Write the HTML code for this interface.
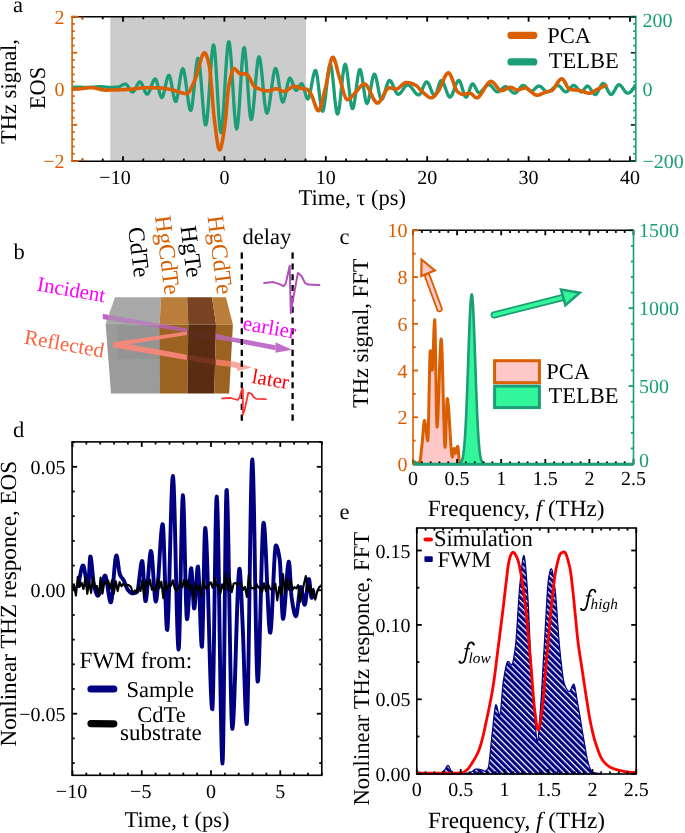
<!DOCTYPE html>
<html><head><meta charset="utf-8"><style>
html,body{margin:0;padding:0;background:#fff;width:685px;height:833px;overflow:hidden;}
svg{display:block;will-change:transform;text-rendering:geometricPrecision;font-family:"Liberation Serif", serif;}
</style></head><body>
<svg width="685" height="833" viewBox="0 0 685 833" font-family='"Liberation Serif", serif'>
<defs>
<clipPath id="clipa"><rect x="72.1" y="16.7" width="563.6999999999999" height="144.5"/></clipPath>
<clipPath id="clipd"><rect x="72.1" y="441.9" width="249.70000000000002" height="333.4"/></clipPath>
<pattern id="hatch" patternUnits="userSpaceOnUse" width="4.32" height="4.32" patternTransform="rotate(45)"><rect width="4.32" height="4.32" fill="#000080"/><rect y="0" width="4.32" height="1.25" fill="#fff"/></pattern>
</defs>
<rect width="685" height="833" fill="#fff"/>
<polygon points="115,297.3 161.2,297.3 159.5,324.6 105.6,323.8" fill="#a8a8a8"/>
<polygon points="105.6,323.8 159.8,324.6 160,393.6 111,393.6" fill="#9b9b9b"/>
<polygon points="117.5,325.5 159.9,325.5 159.9,359.1 117.5,359.1" fill="#8f8f8f" opacity="0.6"/>
<polygon points="161.2,297.3 187.2,297.3 188.3,324.6 159.5,324.6" fill="#bb7d3a"/>
<polygon points="159.5,324.6 188.3,324.6 187.4,393.6 160,393.6" fill="#9c6222"/>
<polygon points="187.2,297.3 212,297.3 216,324.6 188.3,324.6" fill="#7a4424"/>
<polygon points="188.3,324.6 216,324.6 214.3,393.6 187.4,393.6" fill="#5a2c12"/>
<polygon points="212,297.3 225.9,297.3 232.9,324.6 216,324.6" fill="#bb7d3a"/>
<polygon points="216,324.6 232.9,324.6 229.2,393.6 214.3,393.6" fill="#9c6222"/>
<clipPath id="cbL"><rect x="95" y="300" width="13.4" height="30"/></clipPath>
<clipPath id="cbO"><rect x="159.7" y="300" width="27.3" height="50"/></clipPath>
<polygon points="102.9,313.9 186.9,328.4 186.9,332.2 102.9,319" fill="#c060c8" opacity="0.5"/>
<polygon points="102.9,313.9 186.9,328.4 186.9,332.2 102.9,319" fill="#c060c8" clip-path="url(#cbL)"/>
<polygon points="102.9,313.9 186.9,328.4 186.9,332.2 102.9,319" fill="#c060c8" opacity="0.45" clip-path="url(#cbO)"/>
<polygon points="187,329.9 216,333.4 216,339.5 187,337.8" fill="#70304a" opacity="0.18"/>
<polygon points="216,333.4 230.8,337 230.8,341.5 216,339.5" fill="#b868b0" opacity="0.85"/>
<polygon points="230.8,337 275.5,345.2 275.5,350.2 230.8,341.5" fill="#c070c8"/>
<polygon points="275.5,342.2 292.1,349.7 275.5,352.7" fill="#c070c8"/>
<polygon points="113.1,342.3 186.9,331.4 186.9,335 129.2,344.2 186.9,354.7 186.9,359.9 113.1,347.4" fill="#f88878" opacity="0.92"/>
<polygon points="187,354.7 216,359.4 216,365.2 187,359.9" fill="#8a3a22" opacity="0.55"/>
<polygon points="216,359.4 230.8,361 230.8,367 216,365.2" fill="#f08060" opacity="0.9"/>
<polygon points="230.8,361 237.5,362.2 237.5,368.2 230.8,367" fill="#f8a8a0"/>
<polygon points="237,362.3 251.8,367.6 237,371" fill="#f8a8a0"/>
<line x1="241.8" y1="252.6" x2="241.8" y2="421" stroke="#000" stroke-width="2.3" stroke-dasharray="6.1,4.7"/>
<line x1="292.6" y1="252.6" x2="292.6" y2="421" stroke="#000" stroke-width="2.3" stroke-dasharray="6.1,4.7"/>
<path d="M264.2,283.1 L273.4,282.1 L279.5,284.1 L283.6,286.2 L285.7,283.6 L289.7,265.7 L290.8,313.2 L291.8,306.1 L297.9,272.9 L301.5,276 L305.1,283.1 L308.1,284.6 L319.4,285.1" fill="none" stroke="#b050b8" stroke-width="2" stroke-linejoin="round" stroke-linecap="round"/>
<path d="M222,398.4 L230.8,398 L237.8,400 L239.5,397.5 L241.3,391.4 L242.8,388.3 L243,414.6 L244.8,408.9 L248.3,392.7 L251.8,394 L253.5,397.1 L256.2,398.8 L265.8,399.1" fill="none" stroke="#ff3333" stroke-width="1.8" stroke-linejoin="round" stroke-linecap="round"/>
<text x="13.5" y="258.5" font-size="22.5">b</text>
<text x="0" y="0" font-size="23.5" transform="translate(128.1,228.0) rotate(83)">CdTe</text>
<text x="0" y="0" font-size="23.5" fill="#d95f02" transform="translate(155.0,216.6) rotate(83)">HgCdTe</text>
<text x="0" y="0" font-size="23.5" transform="translate(180.6,226.7) rotate(83)">HgTe</text>
<text x="0" y="0" font-size="23.5" fill="#d95f02" transform="translate(207.6,216.5) rotate(83)">HgCdTe</text>
<text x="242.5" y="244" font-size="22.5">delay</text>
<text x="0" y="0" font-size="21" fill="#ff00ff" transform="translate(36.3,290.5) rotate(10)">Incident</text>
<text x="0" y="0" font-size="21" fill="#fa6540" transform="translate(23.5,343.6) rotate(10)">Reflected</text>
<text x="0" y="0" font-size="21" fill="#ff00ff" transform="translate(242.1,329.6) rotate(10)">earlier</text>
<text x="0" y="0" font-size="21" fill="#ff0000" transform="translate(251.0,382.8) rotate(10)">later</text>
<rect x="110.3" y="16.7" width="195.7" height="144.5" fill="#cccccc"/>
<path d="M72.4,87 L73.02,87.03 L73.65,87.06 L74.27,87.09 L74.9,87.11 L75.52,87.13 L76.15,87.15 L76.77,87.17 L77.4,87.19 L78.02,87.21 L78.64,87.22 L79.27,87.23 L79.89,87.24 L80.52,87.25 L81.14,87.26 L81.77,87.27 L82.39,87.28 L83.01,87.28 L83.64,87.29 L84.26,87.29 L84.89,87.29 L85.51,87.3 L86.14,87.3 L86.76,87.3 L87.39,87.3 L88.01,87.3 L88.63,87.3 L89.26,87.3 L89.88,87.3 L90.51,87.29 L91.13,87.28 L91.76,87.24 L92.38,87.2 L93,87.15 L93.63,87.09 L94.25,87.03 L94.88,86.96 L95.5,86.9 L96.13,86.83 L96.75,86.77 L97.38,86.72 L98,86.67 L98.62,86.64 L99.25,86.61 L99.87,86.6 L100.5,86.61 L101.12,86.63 L101.75,86.66 L102.37,86.71 L103,86.77 L103.62,86.84 L104.24,86.91 L104.87,86.98 L105.49,87.06 L106.12,87.13 L106.74,87.2 L107.37,87.26 L107.99,87.32 L108.61,87.36 L109.24,87.39 L109.86,87.4 L110.49,87.4 L111.11,87.39 L111.74,87.38 L112.36,87.36 L112.99,87.34 L113.61,87.31 L114.23,87.28 L114.86,87.24 L115.48,87.2 L116.11,87.16 L116.73,87.11 L117.36,87.06 L117.98,87 L118.6,86.9 L119.23,86.7 L119.85,86.42 L120.48,86.1 L121.1,85.74 L121.73,85.37 L122.35,85.01 L122.98,84.67 L123.6,84.38 L124.22,84.16 L124.85,84.03 L125.47,84.01 L126.1,84.27 L126.72,84.79 L127.35,85.53 L127.97,86.43 L128.6,87.42 L129.22,88.44 L129.84,89.44 L130.47,90.35 L131.09,91.12 L131.72,91.68 L132.34,91.97 L132.97,91.93 L133.59,91.49 L134.21,90.72 L134.84,89.71 L135.46,88.52 L136.09,87.24 L136.71,85.94 L137.34,84.69 L137.96,83.58 L138.59,82.67 L139.21,82.06 L139.83,81.8 L140.46,82.01 L141.08,82.67 L141.71,83.7 L142.33,85.01 L142.96,86.5 L143.58,88.08 L144.2,89.65 L144.83,91.13 L145.45,92.41 L146.08,93.41 L146.7,94.04 L147.33,94.19 L147.95,93.82 L148.58,93 L149.2,91.81 L149.82,90.34 L150.45,88.68 L151.07,86.91 L151.7,85.13 L152.32,83.42 L152.95,81.86 L153.57,80.55 L154.2,79.56 L154.82,79 L155.44,78.97 L156.07,79.78 L156.69,81.32 L157.32,83.41 L157.94,85.86 L158.57,88.48 L159.19,91.08 L159.81,93.46 L160.44,95.45 L161.06,96.86 L161.69,97.48 L162.31,97.17 L162.94,95.97 L163.56,94.07 L164.19,91.64 L164.81,88.88 L165.43,85.95 L166.06,83.06 L166.68,80.37 L167.31,78.06 L167.93,76.33 L168.56,75.35 L169.18,75.33 L169.8,76.47 L170.43,78.59 L171.05,81.44 L171.68,84.78 L172.3,88.36 L172.93,91.95 L173.55,95.28 L174.18,98.13 L174.8,100.24 L175.42,101.37 L176.05,101.27 L176.67,99.82 L177.3,97.25 L177.92,93.85 L178.55,89.88 L179.17,85.6 L179.8,81.29 L180.42,77.22 L181.04,73.64 L181.67,70.84 L182.29,69.08 L182.92,68.63 L183.54,69.64 L184.17,71.93 L184.79,75.25 L185.41,79.36 L186.04,83.99 L186.66,88.91 L187.29,93.86 L187.91,98.6 L188.54,102.88 L189.16,106.44 L189.79,109.04 L190.41,110.43 L191.03,110.29 L191.66,108.19 L192.28,104.42 L192.91,99.37 L193.53,93.42 L194.16,86.94 L194.78,80.32 L195.4,73.92 L196.03,68.13 L196.65,63.33 L197.28,59.9 L197.9,58.21 L198.53,58.71 L199.15,61.59 L199.78,66.43 L200.4,72.79 L201.02,80.23 L201.65,88.28 L202.27,96.52 L202.9,104.49 L203.52,111.75 L204.15,117.84 L204.77,122.34 L205.4,124.79 L206.02,124.72 L206.64,121.94 L207.27,116.88 L207.89,110.01 L208.52,101.81 L209.14,92.74 L209.77,83.29 L210.39,73.92 L211.01,65.12 L211.64,57.36 L212.26,51.1 L212.89,46.84 L213.51,45.03 L214.14,46.35 L214.76,50.94 L215.39,58.14 L216.01,67.31 L216.63,77.78 L217.26,88.9 L217.88,100.02 L218.51,110.46 L219.13,119.58 L219.76,126.73 L220.38,131.23 L221,132.45 L221.63,130.32 L222.25,125.4 L222.88,118.24 L223.5,109.38 L224.13,99.36 L224.75,88.71 L225.38,77.97 L226,67.69 L226.62,58.4 L227.25,50.65 L227.87,44.96 L228.5,41.89 L229.12,41.92 L229.75,44.97 L230.37,50.5 L231,58.01 L231.62,66.98 L232.24,76.89 L232.87,87.21 L233.49,97.44 L234.12,107.06 L234.74,115.53 L235.37,122.36 L235.99,127.01 L236.61,128.97 L237.24,127.77 L237.86,123.6 L238.49,117.04 L239.11,108.69 L239.74,99.13 L240.36,88.94 L240.99,78.72 L241.61,69.05 L242.23,60.52 L242.86,53.7 L243.48,49.2 L244.11,47.6 L244.73,49.21 L245.36,53.58 L245.98,60.11 L246.6,68.22 L247.23,77.31 L247.85,86.8 L248.48,96.1 L249.1,104.62 L249.73,111.76 L250.35,116.95 L250.98,119.59 L251.6,119.32 L252.22,116.83 L252.85,112.55 L253.47,106.87 L254.1,100.18 L254.72,92.87 L255.35,85.32 L255.97,77.93 L256.6,71.07 L257.22,65.15 L257.84,60.54 L258.47,57.64 L259.09,56.82 L259.72,58.11 L260.34,61.13 L260.97,65.55 L261.59,71.04 L262.21,77.25 L262.84,83.86 L263.46,90.53 L264.09,96.92 L264.71,102.7 L265.34,107.54 L265.96,111.09 L266.59,113.04 L267.21,113.13 L267.83,111.86 L268.46,109.49 L269.08,106.24 L269.71,102.29 L270.33,97.85 L270.96,93.12 L271.58,88.3 L272.2,83.58 L272.83,79.16 L273.45,75.25 L274.08,72.04 L274.7,69.74 L275.33,68.53 L275.95,68.63 L276.58,70.09 L277.2,72.65 L277.82,76.06 L278.45,80.05 L279.07,84.36 L279.7,88.72 L280.32,92.87 L280.95,96.55 L281.57,99.49 L282.2,101.43 L282.82,102.1 L283.44,101.54 L284.07,100.08 L284.69,97.89 L285.32,95.19 L285.94,92.16 L286.57,89.01 L287.19,85.92 L287.81,83.1 L288.44,80.73 L289.06,79.02 L289.69,78.16 L290.31,78.26 L290.94,79.02 L291.56,80.28 L292.19,81.88 L292.81,83.68 L293.43,85.53 L294.06,87.28 L294.68,88.77 L295.31,89.85 L295.93,90.37 L296.56,90.27 L297.18,89.75 L297.8,88.92 L298.43,87.89 L299.05,86.77 L299.68,85.69 L300.3,84.74 L300.93,84.05 L301.55,83.71 L302.18,83.96 L302.8,85.01 L303.42,86.68 L304.05,88.76 L304.67,91.06 L305.3,93.39 L305.92,95.54 L306.55,97.33 L307.17,98.55 L307.8,99 L308.42,98.47 L309.04,97 L309.67,94.77 L310.29,91.95 L310.92,88.73 L311.54,85.3 L312.17,81.84 L312.79,78.53 L313.41,75.56 L314.04,73.1 L314.66,71.34 L315.29,70.46 L315.91,70.8 L316.54,72.76 L317.16,76.07 L317.79,80.38 L318.41,85.38 L319.03,90.71 L319.66,96.06 L320.28,101.08 L320.91,105.43 L321.53,108.8 L322.16,110.84 L322.78,111.22 L323.4,109.87 L324.03,107.04 L324.65,103.05 L325.28,98.2 L325.9,92.78 L326.53,87.1 L327.15,81.45 L327.78,76.14 L328.4,71.47 L329.02,67.74 L329.65,65.25 L330.27,64.3 L330.9,65.27 L331.52,68.12 L332.15,72.46 L332.77,77.9 L333.4,84.04 L334.02,90.49 L334.64,96.87 L335.27,102.79 L335.89,107.85 L336.52,111.66 L337.14,113.84 L337.77,114.03 L338.39,112.35 L339.01,109.16 L339.64,104.77 L340.26,99.5 L340.89,93.68 L341.51,87.62 L342.14,81.65 L342.76,76.07 L343.39,71.22 L344.01,67.41 L344.63,64.97 L345.26,64.21 L345.88,65.3 L346.51,67.98 L347.13,71.92 L347.76,76.78 L348.38,82.22 L349,87.92 L349.63,93.53 L350.25,98.73 L350.88,103.17 L351.5,106.53 L352.13,108.46 L352.75,108.67 L353.38,107.28 L354,104.6 L354.62,100.92 L355.25,96.53 L355.87,91.7 L356.5,86.73 L357.12,81.89 L357.75,77.47 L358.37,73.75 L359,71.02 L359.62,69.57 L360.24,69.63 L360.87,71.13 L361.49,73.79 L362.12,77.32 L362.74,81.45 L363.37,85.89 L363.99,90.37 L364.61,94.61 L365.24,98.33 L365.86,101.25 L366.49,103.09 L367.11,103.58 L367.74,102.78 L368.36,100.97 L368.99,98.37 L369.61,95.18 L370.23,91.62 L370.86,87.9 L371.48,84.24 L372.11,80.84 L372.73,77.92 L373.36,75.7 L373.98,74.37 L374.6,74.16 L375.23,75.06 L375.85,76.87 L376.48,79.37 L377.1,82.37 L377.73,85.65 L378.35,89 L378.98,92.22 L379.6,95.1 L380.22,97.43 L380.85,99 L381.47,99.6 L382.1,99.29 L382.72,98.39 L383.35,97 L383.97,95.24 L384.6,93.2 L385.22,91.01 L385.84,88.77 L386.47,86.58 L387.09,84.57 L387.72,82.84 L388.34,81.49 L388.97,80.65 L389.59,80.4 L390.21,80.67 L390.84,81.29 L391.46,82.2 L392.09,83.36 L392.71,84.69 L393.34,86.13 L393.96,87.62 L394.59,89.1 L395.21,90.5 L395.83,91.78 L396.46,92.85 L397.08,93.67 L397.71,94.17 L398.33,94.29 L398.96,94.13 L399.58,93.76 L400.2,93.21 L400.83,92.52 L401.45,91.72 L402.08,90.84 L402.7,89.92 L403.33,88.99 L403.95,88.07 L404.58,87.21 L405.2,86.43 L405.82,85.76 L406.45,85.25 L407.07,84.92 L407.7,84.8 L408.32,84.89 L408.95,85.16 L409.57,85.58 L410.2,86.14 L410.82,86.8 L411.44,87.54 L412.07,88.35 L412.69,89.2 L413.32,90.06 L413.94,90.93 L414.57,91.76 L415.19,92.55 L415.81,93.26 L416.44,93.88 L417.06,94.39 L417.69,94.76 L418.31,94.96 L418.94,94.97 L419.56,94.58 L420.19,93.81 L420.81,92.75 L421.43,91.46 L422.06,90.01 L422.68,88.49 L423.31,86.97 L423.93,85.52 L424.56,84.22 L425.18,83.14 L425.8,82.36 L426.43,81.94 L427.05,81.98 L427.68,82.47 L428.3,83.35 L428.93,84.53 L429.55,85.94 L430.18,87.49 L430.8,89.11 L431.42,90.72 L432.05,92.23 L432.67,93.58 L433.3,94.67 L433.92,95.43 L434.55,95.78 L435.17,95.58 L435.8,94.67 L436.42,93.21 L437.04,91.35 L437.67,89.26 L438.29,87.08 L438.92,84.97 L439.54,83.1 L440.17,81.61 L440.79,80.66 L441.41,80.41 L442.04,80.74 L442.66,81.51 L443.29,82.63 L443.91,84.03 L444.54,85.65 L445.16,87.39 L445.79,89.19 L446.41,90.98 L447.03,92.67 L447.66,94.2 L448.28,95.5 L448.91,96.47 L449.53,97.06 L450.16,97.18 L450.78,96.83 L451.4,96.05 L452.03,94.93 L452.65,93.54 L453.28,91.94 L453.9,90.22 L454.53,88.44 L455.15,86.67 L455.78,84.99 L456.4,83.47 L457.02,82.18 L457.65,81.19 L458.27,80.57 L458.9,80.41 L459.52,80.86 L460.15,81.9 L460.77,83.41 L461.4,85.26 L462.02,87.32 L462.64,89.47 L463.27,91.58 L463.89,93.52 L464.52,95.17 L465.14,96.41 L465.77,97.1 L466.39,97.12 L467.01,96.48 L467.64,95.3 L468.26,93.73 L468.89,91.92 L469.51,90 L470.14,88.12 L470.76,86.41 L471.39,85.03 L472.01,84.11 L472.63,83.8 L473.26,84.08 L473.88,84.77 L474.51,85.79 L475.13,87 L475.76,88.32 L476.38,89.63 L477,90.81 L477.63,91.78 L478.25,92.41 L478.88,92.6 L479.5,92.49 L480.13,92.23 L480.75,91.84 L481.38,91.34 L482,90.76 L482.62,90.1 L483.25,89.4 L483.87,88.68 L484.5,87.96 L485.12,87.26 L485.75,86.6 L486.37,86 L487,85.5 L487.62,85.09 L488.24,84.82 L488.87,84.7 L489.49,84.77 L490.12,85.03 L490.74,85.47 L491.37,86.03 L491.99,86.71 L492.61,87.45 L493.24,88.22 L493.86,89 L494.49,89.75 L495.11,90.44 L495.74,91.03 L496.36,91.49 L496.99,91.79 L497.61,91.9 L498.23,91.8 L498.86,91.55 L499.48,91.15 L500.11,90.66 L500.73,90.1 L501.36,89.49 L501.98,88.88 L502.6,88.28 L503.23,87.74 L503.85,87.28 L504.48,86.94 L505.1,86.74 L505.73,86.71 L506.35,86.86 L506.98,87.15 L507.6,87.56 L508.22,88.07 L508.85,88.66 L509.47,89.29 L510.1,89.95 L510.72,90.61 L511.35,91.24 L511.97,91.82 L512.6,92.33 L513.22,92.75 L513.84,93.04 L514.47,93.19 L515.09,93.15 L515.72,92.89 L516.34,92.44 L516.97,91.83 L517.59,91.11 L518.21,90.3 L518.84,89.45 L519.46,88.6 L520.09,87.77 L520.71,87.01 L521.34,86.36 L521.96,85.85 L522.59,85.52 L523.21,85.4 L523.83,85.51 L524.46,85.8 L525.08,86.25 L525.71,86.81 L526.33,87.45 L526.96,88.13 L527.58,88.83 L528.2,89.5 L528.83,90.12 L529.45,90.64 L530.08,91.03 L530.7,91.26 L531.33,91.29 L531.95,91.13 L532.58,90.81 L533.2,90.38 L533.82,89.84 L534.45,89.25 L535.07,88.63 L535.7,88 L536.32,87.41 L536.95,86.89 L537.57,86.46 L538.2,86.15 L538.82,86.01 L539.44,86.05 L540.07,86.26 L540.69,86.61 L541.32,87.08 L541.94,87.63 L542.57,88.24 L543.19,88.89 L543.81,89.53 L544.44,90.16 L545.06,90.72 L545.69,91.21 L546.31,91.59 L546.94,91.83 L547.56,91.9 L548.19,91.82 L548.81,91.62 L549.43,91.32 L550.06,90.93 L550.68,90.47 L551.31,89.96 L551.93,89.4 L552.56,88.83 L553.18,88.25 L553.8,87.68 L554.43,87.14 L555.05,86.65 L555.68,86.21 L556.3,85.85 L556.93,85.59 L557.55,85.43 L558.18,85.41 L558.8,85.59 L559.42,85.97 L560.05,86.51 L560.67,87.17 L561.3,87.9 L561.92,88.68 L562.55,89.45 L563.17,90.18 L563.8,90.83 L564.42,91.36 L565.04,91.73 L565.67,91.89 L566.29,91.83 L566.92,91.55 L567.54,91.09 L568.17,90.5 L568.79,89.81 L569.41,89.06 L570.04,88.29 L570.66,87.54 L571.29,86.85 L571.91,86.25 L572.54,85.78 L573.16,85.49 L573.79,85.4 L574.41,85.55 L575.03,85.91 L575.66,86.42 L576.28,87.07 L576.91,87.79 L577.53,88.56 L578.16,89.34 L578.78,90.08 L579.4,90.75 L580.03,91.29 L580.65,91.69 L581.28,91.88 L581.9,91.82 L582.53,91.43 L583.15,90.77 L583.78,89.94 L584.4,89.02 L585.02,88.1 L585.65,87.25 L586.27,86.56 L586.9,86.12 L587.52,86.01 L588.15,86.22 L588.77,86.69 L589.4,87.37 L590.02,88.21 L590.64,89.16 L591.27,90.17 L591.89,91.18 L592.52,92.15 L593.14,93.02 L593.77,93.75 L594.39,94.28 L595.01,94.57 L595.64,94.54 L596.26,94.14 L596.89,93.42 L597.51,92.46 L598.14,91.31 L598.76,90.03 L599.39,88.71 L600.01,87.4 L600.63,86.18 L601.26,85.1 L601.88,84.23 L602.51,83.64 L603.13,83.4 L603.76,83.56 L604.38,84.08 L605,84.89 L605.63,85.93 L606.25,87.13 L606.88,88.42 L607.5,89.75 L608.13,91.03 L608.75,92.22 L609.38,93.23 L610,94.01 L610.62,94.48 L611.25,94.59 L611.87,94.33 L612.5,93.78 L613.12,92.99 L613.75,92.01 L614.37,90.91 L615,89.75 L615.62,88.59 L616.24,87.47 L616.87,86.47 L617.49,85.64 L618.12,85.04 L618.74,84.73 L619.37,84.75 L619.99,85.02 L620.61,85.5 L621.24,86.16 L621.86,86.94 L622.49,87.82 L623.11,88.74 L623.74,89.68 L624.36,90.58 L624.99,91.41 L625.61,92.13 L626.23,92.69 L626.86,93.06 L627.48,93.2 L628.11,93.15 L628.73,92.99 L629.36,92.72 L629.98,92.35 L630.6,91.88 L631.23,91.3 L631.85,90.62 L632.48,89.84 L633.1,88.96 L633.73,87.99 L634.35,86.92 L634.98,85.76 L635.6,84.5" fill="none" stroke="#1b9e77" stroke-width="3.3" stroke-linejoin="round" clip-path="url(#clipa)"/>
<path d="M72.4,89.2 L73.02,89.18 L73.65,89.16 L74.27,89.13 L74.9,89.1 L75.52,89.07 L76.15,89.04 L76.77,89.01 L77.4,88.97 L78.02,88.93 L78.65,88.89 L79.27,88.85 L79.9,88.81 L80.52,88.76 L81.14,88.7 L81.77,88.63 L82.39,88.55 L83.02,88.46 L83.64,88.37 L84.27,88.28 L84.89,88.19 L85.52,88.1 L86.14,88 L86.77,87.92 L87.39,87.84 L88.01,87.77 L88.64,87.71 L89.26,87.66 L89.89,87.62 L90.51,87.6 L91.14,87.6 L91.76,87.62 L92.39,87.67 L93.01,87.74 L93.64,87.83 L94.26,87.93 L94.89,88.05 L95.51,88.18 L96.13,88.33 L96.76,88.47 L97.38,88.63 L98.01,88.79 L98.63,88.95 L99.26,89.11 L99.88,89.26 L100.51,89.41 L101.13,89.55 L101.76,89.68 L102.38,89.79 L103,89.89 L103.63,89.98 L104.25,90.04 L104.88,90.08 L105.5,90.1 L106.13,90.1 L106.75,90.1 L107.38,90.09 L108,90.09 L108.63,90.08 L109.25,90.07 L109.88,90.06 L110.5,90.05 L111.12,90.04 L111.75,90.03 L112.37,90.01 L113,90 L113.62,89.98 L114.25,89.97 L114.87,89.95 L115.5,89.93 L116.12,89.92 L116.75,89.9 L117.37,89.88 L118,89.86 L118.62,89.84 L119.24,89.82 L119.87,89.8 L120.49,89.78 L121.12,89.76 L121.74,89.74 L122.37,89.72 L122.99,89.69 L123.62,89.66 L124.24,89.63 L124.87,89.6 L125.49,89.57 L126.11,89.53 L126.74,89.5 L127.36,89.46 L127.99,89.43 L128.61,89.39 L129.24,89.35 L129.86,89.31 L130.49,89.27 L131.11,89.21 L131.74,89.16 L132.36,89.09 L132.99,89.02 L133.61,88.95 L134.23,88.87 L134.86,88.78 L135.48,88.7 L136.11,88.62 L136.73,88.53 L137.36,88.45 L137.98,88.36 L138.61,88.28 L139.23,88.21 L139.86,88.13 L140.48,88.06 L141.1,88 L141.73,87.95 L142.35,87.9 L142.98,87.86 L143.6,87.83 L144.23,87.81 L144.85,87.8 L145.48,87.8 L146.1,87.8 L146.73,87.8 L147.35,87.81 L147.98,87.81 L148.6,87.81 L149.22,87.82 L149.85,87.82 L150.47,87.83 L151.1,87.83 L151.72,87.84 L152.35,87.85 L152.97,87.86 L153.6,87.87 L154.22,87.88 L154.85,87.89 L155.47,87.9 L156.1,87.91 L156.72,87.92 L157.34,87.94 L157.97,87.95 L158.59,87.97 L159.22,87.98 L159.84,88 L160.47,88.02 L161.09,88.05 L161.72,88.09 L162.34,88.15 L162.97,88.22 L163.59,88.3 L164.21,88.38 L164.84,88.48 L165.46,88.58 L166.09,88.69 L166.71,88.8 L167.34,88.91 L167.96,89.03 L168.59,89.15 L169.21,89.27 L169.84,89.38 L170.46,89.5 L171.09,89.62 L171.71,89.74 L172.33,89.88 L172.96,90.04 L173.58,90.21 L174.21,90.4 L174.83,90.59 L175.46,90.79 L176.08,91 L176.71,91.21 L177.33,91.43 L177.96,91.64 L178.58,91.85 L179.2,92.06 L179.83,92.26 L180.45,92.46 L181.08,92.65 L181.7,92.82 L182.33,92.99 L182.95,93.13 L183.58,93.26 L184.2,93.38 L184.83,93.47 L185.45,93.54 L186.08,93.58 L186.7,93.6 L187.32,93.5 L187.95,93.14 L188.57,92.54 L189.2,91.74 L189.82,90.76 L190.45,89.63 L191.07,88.39 L191.7,87.06 L192.32,85.67 L192.95,84.26 L193.57,82.85 L194.2,81.47 L194.82,80.15 L195.44,78.64 L196.07,76.86 L196.69,74.86 L197.32,72.7 L197.94,70.42 L198.57,68.08 L199.19,65.74 L199.82,63.43 L200.44,61.22 L201.07,59.16 L201.69,57.3 L202.31,55.69 L202.94,54.39 L203.56,53.44 L204.19,52.91 L204.81,52.84 L205.44,53.36 L206.06,54.42 L206.69,55.95 L207.31,57.86 L207.94,60.07 L208.56,62.49 L209.19,65.07 L209.81,69 L210.43,74.65 L211.06,81.55 L211.68,89.22 L212.31,97.19 L212.93,104.98 L213.56,112.09 L214.18,118.07 L214.81,122.9 L215.43,127.83 L216.06,132.76 L216.68,137.48 L217.3,141.76 L217.93,145.36 L218.55,148.08 L219.18,149.67 L219.8,149.94 L220.43,149.08 L221.05,147.3 L221.68,144.76 L222.3,141.6 L222.93,137.97 L223.55,134.02 L224.18,129.9 L224.8,125.76 L225.42,120.89 L226.05,114.32 L226.67,106.83 L227.3,99.25 L227.92,92.43 L228.55,87.18 L229.17,83.84 L229.8,80.81 L230.42,77.96 L231.05,75.35 L231.67,73.06 L232.3,71.16 L232.92,69.74 L233.54,68.86 L234.17,68.6 L234.79,68.77 L235.42,69.17 L236.04,69.74 L236.67,70.43 L237.29,71.18 L237.92,71.94 L238.54,72.64 L239.17,73.24 L239.79,73.67 L240.41,73.89 L241.04,73.9 L241.66,73.9 L242.29,73.9 L242.91,73.9 L243.54,73.9 L244.16,73.9 L244.79,73.9 L245.41,73.9 L246.04,73.91 L246.66,74.12 L247.29,74.61 L247.91,75.33 L248.53,76.23 L249.16,77.29 L249.78,78.45 L250.41,79.68 L251.03,80.93 L251.66,82.18 L252.28,83.37 L252.91,84.47 L253.53,85.43 L254.16,86.23 L254.78,86.8 L255.4,87.16 L256.03,87.47 L256.65,87.77 L257.28,88.06 L257.9,88.35 L258.53,88.62 L259.15,88.88 L259.78,89.13 L260.4,89.36 L261.03,89.58 L261.65,89.79 L262.28,89.98 L262.9,90.16 L263.52,90.31 L264.15,90.45 L264.77,90.58 L265.4,90.68 L266.02,90.77 L266.65,90.83 L267.27,90.88 L267.9,90.9 L268.52,90.89 L269.15,90.82 L269.77,90.68 L270.4,90.5 L271.02,90.29 L271.64,90.05 L272.27,89.8 L272.89,89.56 L273.52,89.33 L274.14,89.12 L274.77,88.96 L275.39,88.85 L276.02,88.8 L276.64,88.84 L277.27,88.96 L277.89,89.16 L278.51,89.41 L279.14,89.7 L279.76,90.01 L280.39,90.32 L281.01,90.62 L281.64,90.9 L282.26,91.13 L282.89,91.3 L283.51,91.39 L284.14,91.39 L284.76,91.28 L285.39,91.1 L286.01,90.84 L286.63,90.52 L287.26,90.15 L287.88,89.74 L288.51,89.31 L289.13,88.86 L289.76,88.42 L290.38,87.98 L291.01,87.58 L291.63,87.2 L292.26,86.88 L292.88,86.62 L293.5,86.42 L294.13,86.32 L294.75,86.31 L295.38,86.39 L296,86.54 L296.63,86.74 L297.25,86.98 L297.88,87.25 L298.5,87.53 L299.13,87.79 L299.75,88.03 L300.38,88.22 L301,88.36 L301.62,88.47 L302.25,88.56 L302.87,88.64 L303.5,88.71 L304.12,88.78 L304.75,88.86 L305.37,88.96 L306,89.09 L306.62,89.25 L307.25,89.5 L307.87,89.95 L308.5,90.59 L309.12,91.36 L309.74,92.22 L310.37,93.13 L310.99,94.04 L311.62,95.17 L312.24,96.61 L312.87,98.27 L313.49,100.08 L314.12,101.96 L314.74,103.84 L315.37,105.64 L315.99,107.29 L316.61,108.7 L317.24,109.81 L317.86,110.54 L318.49,110.8 L319.11,110.47 L319.74,109.51 L320.36,108.01 L320.99,106.08 L321.61,103.81 L322.24,101.28 L322.86,98.6 L323.49,95.86 L324.11,93.16 L324.73,90.58 L325.36,88.2 L325.98,85.55 L326.61,82.53 L327.23,79.23 L327.86,75.8 L328.48,72.33 L329.11,68.96 L329.73,65.79 L330.36,62.95 L330.98,60.55 L331.6,58.72 L332.23,57.56 L332.85,57.2 L333.48,57.61 L334.1,58.64 L334.73,60.17 L335.35,62.12 L335.98,64.36 L336.6,66.8 L337.23,69.33 L337.85,71.84 L338.48,74.22 L339.1,76.38 L339.72,78.29 L340.35,80.34 L340.97,82.56 L341.6,84.88 L342.22,87.23 L342.85,89.55 L343.47,91.77 L344.1,93.84 L344.72,95.69 L345.35,97.25 L345.97,98.46 L346.6,99.27 L347.22,99.6 L347.84,99.54 L348.47,99.33 L349.09,98.98 L349.72,98.53 L350.34,97.98 L350.97,97.36 L351.59,96.7 L352.22,95.99 L352.84,95.28 L353.47,94.57 L354.09,93.9 L354.71,93.27 L355.34,92.68 L355.96,92.03 L356.59,91.31 L357.21,90.55 L357.84,89.76 L358.46,88.95 L359.09,88.15 L359.71,87.37 L360.34,86.63 L360.96,85.94 L361.59,85.32 L362.21,84.8 L362.83,84.38 L363.46,84.08 L364.08,83.92 L364.71,83.93 L365.33,84.18 L365.96,84.65 L366.58,85.31 L367.21,86.15 L367.83,87.14 L368.46,88.26 L369.08,89.47 L369.7,90.76 L370.33,92.1 L370.95,93.46 L371.58,94.82 L372.2,96.16 L372.83,97.44 L373.45,98.66 L374.08,99.77 L374.7,100.76 L375.33,101.6 L375.95,102.26 L376.58,102.73 L377.2,102.97 L377.82,102.97 L378.45,102.72 L379.07,102.26 L379.7,101.61 L380.32,100.81 L380.95,99.87 L381.57,98.82 L382.2,97.69 L382.82,96.51 L383.45,95.31 L384.07,94.11 L384.7,92.94 L385.32,91.82 L385.94,90.79 L386.57,89.87 L387.19,89.08 L387.82,88.46 L388.44,88.03 L389.07,87.82 L389.69,87.81 L390.32,87.88 L390.94,88 L391.57,88.15 L392.19,88.33 L392.81,88.51 L393.44,88.69 L394.06,88.85 L394.69,88.98 L395.31,89.07 L395.94,89.1 L396.56,89.02 L397.19,88.83 L397.81,88.52 L398.44,88.13 L399.06,87.67 L399.69,87.15 L400.31,86.59 L400.93,86 L401.56,85.42 L402.18,84.84 L402.81,84.29 L403.43,83.78 L404.06,83.34 L404.68,82.97 L405.31,82.7 L405.93,82.54 L406.56,82.5 L407.18,82.53 L407.8,82.58 L408.43,82.67 L409.05,82.79 L409.68,82.93 L410.3,83.1 L410.93,83.29 L411.55,83.5 L412.18,83.73 L412.8,83.97 L413.43,84.23 L414.05,84.5 L414.68,84.78 L415.3,85.06 L415.92,85.37 L416.55,85.8 L417.17,86.33 L417.8,86.95 L418.42,87.63 L419.05,88.35 L419.67,89.08 L420.3,89.8 L420.92,90.49 L421.55,91.12 L422.17,91.68 L422.8,92.19 L423.42,92.73 L424.04,93.28 L424.67,93.84 L425.29,94.4 L425.92,94.94 L426.54,95.46 L427.17,95.96 L427.79,96.41 L428.42,96.82 L429.04,97.16 L429.67,97.44 L430.29,97.65 L430.91,97.77 L431.54,97.8 L432.16,97.66 L432.79,97.36 L433.41,96.93 L434.04,96.37 L434.66,95.71 L435.29,94.99 L435.91,94.22 L436.54,93.42 L437.16,92.62 L437.79,91.84 L438.41,91.01 L439.03,90 L439.66,88.82 L440.28,87.51 L440.91,86.09 L441.53,84.61 L442.16,83.09 L442.78,81.56 L443.41,80.06 L444.03,78.62 L444.66,77.26 L445.28,76.03 L445.9,74.95 L446.53,74.06 L447.15,73.38 L447.78,72.95 L448.4,72.8 L449.03,73.02 L449.65,73.64 L450.28,74.6 L450.9,75.85 L451.53,77.32 L452.15,78.96 L452.78,80.71 L453.4,82.52 L454.02,84.32 L454.65,86.06 L455.27,87.68 L455.9,89.12 L456.52,90.33 L457.15,91.25 L457.77,91.83 L458.4,92.31 L459.02,92.77 L459.65,93.19 L460.27,93.57 L460.9,93.9 L461.52,94.15 L462.14,94.32 L462.77,94.4 L463.39,94.38 L464.02,94.32 L464.64,94.22 L465.27,94.09 L465.89,93.94 L466.52,93.78 L467.14,93.63 L467.77,93.48 L468.39,93.36 L469.01,93.26 L469.64,93.21 L470.26,93.22 L470.89,93.43 L471.51,93.81 L472.14,94.34 L472.76,94.94 L473.39,95.59 L474.01,96.23 L474.64,96.82 L475.26,97.31 L475.89,97.65 L476.51,97.8 L477.13,97.73 L477.76,97.5 L478.38,97.11 L479.01,96.58 L479.63,95.92 L480.26,95.16 L480.88,94.31 L481.51,93.39 L482.13,92.4 L482.76,91.37 L483.38,90.32 L484,89.25 L484.63,88.19 L485.25,87.15 L485.88,86.15 L486.5,85.2 L487.13,84.32 L487.75,83.53 L488.38,82.83 L489,82.26 L489.63,81.82 L490.25,81.53 L490.88,81.4 L491.5,81.46 L492.12,81.69 L492.75,82.08 L493.37,82.6 L494,83.22 L494.62,83.93 L495.25,84.7 L495.87,85.5 L496.5,86.32 L497.12,87.13 L497.75,87.91 L498.37,88.64 L499,89.28 L499.62,89.82 L500.24,90.24 L500.87,90.5 L501.49,90.6 L502.12,90.56 L502.74,90.44 L503.37,90.25 L503.99,90 L504.62,89.72 L505.24,89.41 L505.87,89.08 L506.49,88.74 L507.11,88.41 L507.74,88.11 L508.36,87.83 L508.99,87.6 L509.61,87.43 L510.24,87.32 L510.86,87.3 L511.49,87.41 L512.11,87.62 L512.74,87.91 L513.36,88.26 L513.99,88.64 L514.61,89.02 L515.23,89.37 L515.86,89.67 L516.48,89.89 L517.11,89.99 L517.73,89.98 L518.36,89.9 L518.98,89.77 L519.61,89.59 L520.23,89.38 L520.86,89.15 L521.48,88.91 L522.1,88.68 L522.73,88.46 L523.35,88.28 L523.98,88.13 L524.6,88.03 L525.23,88 L525.85,88.06 L526.48,88.23 L527.1,88.5 L527.73,88.85 L528.35,89.27 L528.98,89.74 L529.6,90.26 L530.22,90.8 L530.85,91.37 L531.47,91.94 L532.1,92.51 L532.72,93.05 L533.35,93.56 L533.97,94.02 L534.6,94.43 L535.22,94.76 L535.85,95.01 L536.47,95.16 L537.1,95.2 L537.72,95.16 L538.34,95.06 L538.97,94.91 L539.59,94.71 L540.22,94.48 L540.84,94.22 L541.47,93.94 L542.09,93.65 L542.72,93.35 L543.34,93.05 L543.97,92.76 L544.59,92.48 L545.21,92.23 L545.84,92.01 L546.46,91.83 L547.09,91.67 L547.71,91.54 L548.34,91.41 L548.96,91.29 L549.59,91.15 L550.21,91 L550.84,90.83 L551.46,90.61 L552.09,90.29 L552.71,89.79 L553.33,89.14 L553.96,88.36 L554.58,87.49 L555.21,86.54 L555.83,85.54 L556.46,84.53 L557.08,83.52 L557.71,82.54 L558.33,81.62 L558.96,80.79 L559.58,80.07 L560.2,79.48 L560.83,79.06 L561.45,78.83 L562.08,78.84 L562.7,79.16 L563.33,79.77 L563.95,80.61 L564.58,81.63 L565.2,82.77 L565.83,83.96 L566.45,85.17 L567.08,86.32 L567.7,87.36 L568.32,88.23 L568.95,88.89 L569.57,89.26 L570.2,89.41 L570.82,89.53 L571.45,89.64 L572.07,89.73 L572.7,89.81 L573.32,89.88 L573.95,89.94 L574.57,90 L575.2,90.05 L575.82,90.1 L576.44,90.15 L577.07,90.21 L577.69,90.27 L578.32,90.33 L578.94,90.41 L579.57,90.5 L580.19,90.6 L580.82,90.73 L581.44,90.89 L582.07,91.08 L582.69,91.3 L583.31,91.53 L583.94,91.77 L584.56,92.01 L585.19,92.25 L585.81,92.47 L586.44,92.68 L587.06,92.86 L587.69,93.01 L588.31,93.12 L588.94,93.18 L589.56,93.2 L590.19,93.13 L590.81,92.97 L591.43,92.74 L592.06,92.45 L592.68,92.12 L593.31,91.75 L593.93,91.35 L594.56,90.94 L595.18,90.53 L595.81,90.13 L596.43,89.76 L597.06,89.42 L597.68,89.12 L598.3,88.82 L598.93,88.53 L599.55,88.24 L600.18,87.95 L600.8,87.66 L601.43,87.37 L602.05,87.08 L602.68,86.8 L603.3,86.51 L603.93,86.23 L604.55,85.95 L605.18,85.68 L605.8,85.4" fill="none" stroke="#d95f02" stroke-width="3.6" stroke-linejoin="round" stroke-linecap="round" clip-path="url(#clipa)"/>
<line x1="82.44" y1="161.2" x2="82.44" y2="158.6" stroke="#000" stroke-width="1.8" />
<line x1="82.44" y1="16.7" x2="82.44" y2="19.3" stroke="#000" stroke-width="1.8" />
<line x1="102.72" y1="161.2" x2="102.72" y2="158.6" stroke="#000" stroke-width="1.8" />
<line x1="102.72" y1="16.7" x2="102.72" y2="19.3" stroke="#000" stroke-width="1.8" />
<line x1="123" y1="161.2" x2="123" y2="156.2" stroke="#000" stroke-width="1.8" />
<line x1="123" y1="16.7" x2="123" y2="21.7" stroke="#000" stroke-width="1.8" />
<line x1="143.28" y1="161.2" x2="143.28" y2="158.6" stroke="#000" stroke-width="1.8" />
<line x1="143.28" y1="16.7" x2="143.28" y2="19.3" stroke="#000" stroke-width="1.8" />
<line x1="163.56" y1="161.2" x2="163.56" y2="158.6" stroke="#000" stroke-width="1.8" />
<line x1="163.56" y1="16.7" x2="163.56" y2="19.3" stroke="#000" stroke-width="1.8" />
<line x1="183.84" y1="161.2" x2="183.84" y2="158.6" stroke="#000" stroke-width="1.8" />
<line x1="183.84" y1="16.7" x2="183.84" y2="19.3" stroke="#000" stroke-width="1.8" />
<line x1="204.12" y1="161.2" x2="204.12" y2="158.6" stroke="#000" stroke-width="1.8" />
<line x1="204.12" y1="16.7" x2="204.12" y2="19.3" stroke="#000" stroke-width="1.8" />
<line x1="224.4" y1="161.2" x2="224.4" y2="156.2" stroke="#000" stroke-width="1.8" />
<line x1="224.4" y1="16.7" x2="224.4" y2="21.7" stroke="#000" stroke-width="1.8" />
<line x1="244.68" y1="161.2" x2="244.68" y2="158.6" stroke="#000" stroke-width="1.8" />
<line x1="244.68" y1="16.7" x2="244.68" y2="19.3" stroke="#000" stroke-width="1.8" />
<line x1="264.96" y1="161.2" x2="264.96" y2="158.6" stroke="#000" stroke-width="1.8" />
<line x1="264.96" y1="16.7" x2="264.96" y2="19.3" stroke="#000" stroke-width="1.8" />
<line x1="285.24" y1="161.2" x2="285.24" y2="158.6" stroke="#000" stroke-width="1.8" />
<line x1="285.24" y1="16.7" x2="285.24" y2="19.3" stroke="#000" stroke-width="1.8" />
<line x1="305.52" y1="161.2" x2="305.52" y2="158.6" stroke="#000" stroke-width="1.8" />
<line x1="305.52" y1="16.7" x2="305.52" y2="19.3" stroke="#000" stroke-width="1.8" />
<line x1="325.8" y1="161.2" x2="325.8" y2="156.2" stroke="#000" stroke-width="1.8" />
<line x1="325.8" y1="16.7" x2="325.8" y2="21.7" stroke="#000" stroke-width="1.8" />
<line x1="346.08" y1="161.2" x2="346.08" y2="158.6" stroke="#000" stroke-width="1.8" />
<line x1="346.08" y1="16.7" x2="346.08" y2="19.3" stroke="#000" stroke-width="1.8" />
<line x1="366.36" y1="161.2" x2="366.36" y2="158.6" stroke="#000" stroke-width="1.8" />
<line x1="366.36" y1="16.7" x2="366.36" y2="19.3" stroke="#000" stroke-width="1.8" />
<line x1="386.64" y1="161.2" x2="386.64" y2="158.6" stroke="#000" stroke-width="1.8" />
<line x1="386.64" y1="16.7" x2="386.64" y2="19.3" stroke="#000" stroke-width="1.8" />
<line x1="406.92" y1="161.2" x2="406.92" y2="158.6" stroke="#000" stroke-width="1.8" />
<line x1="406.92" y1="16.7" x2="406.92" y2="19.3" stroke="#000" stroke-width="1.8" />
<line x1="427.2" y1="161.2" x2="427.2" y2="156.2" stroke="#000" stroke-width="1.8" />
<line x1="427.2" y1="16.7" x2="427.2" y2="21.7" stroke="#000" stroke-width="1.8" />
<line x1="447.48" y1="161.2" x2="447.48" y2="158.6" stroke="#000" stroke-width="1.8" />
<line x1="447.48" y1="16.7" x2="447.48" y2="19.3" stroke="#000" stroke-width="1.8" />
<line x1="467.76" y1="161.2" x2="467.76" y2="158.6" stroke="#000" stroke-width="1.8" />
<line x1="467.76" y1="16.7" x2="467.76" y2="19.3" stroke="#000" stroke-width="1.8" />
<line x1="488.04" y1="161.2" x2="488.04" y2="158.6" stroke="#000" stroke-width="1.8" />
<line x1="488.04" y1="16.7" x2="488.04" y2="19.3" stroke="#000" stroke-width="1.8" />
<line x1="508.32" y1="161.2" x2="508.32" y2="158.6" stroke="#000" stroke-width="1.8" />
<line x1="508.32" y1="16.7" x2="508.32" y2="19.3" stroke="#000" stroke-width="1.8" />
<line x1="528.6" y1="161.2" x2="528.6" y2="156.2" stroke="#000" stroke-width="1.8" />
<line x1="528.6" y1="16.7" x2="528.6" y2="21.7" stroke="#000" stroke-width="1.8" />
<line x1="548.88" y1="161.2" x2="548.88" y2="158.6" stroke="#000" stroke-width="1.8" />
<line x1="548.88" y1="16.7" x2="548.88" y2="19.3" stroke="#000" stroke-width="1.8" />
<line x1="569.16" y1="161.2" x2="569.16" y2="158.6" stroke="#000" stroke-width="1.8" />
<line x1="569.16" y1="16.7" x2="569.16" y2="19.3" stroke="#000" stroke-width="1.8" />
<line x1="589.44" y1="161.2" x2="589.44" y2="158.6" stroke="#000" stroke-width="1.8" />
<line x1="589.44" y1="16.7" x2="589.44" y2="19.3" stroke="#000" stroke-width="1.8" />
<line x1="609.72" y1="161.2" x2="609.72" y2="158.6" stroke="#000" stroke-width="1.8" />
<line x1="609.72" y1="16.7" x2="609.72" y2="19.3" stroke="#000" stroke-width="1.8" />
<line x1="630" y1="161.2" x2="630" y2="156.2" stroke="#000" stroke-width="1.8" />
<line x1="630" y1="16.7" x2="630" y2="21.7" stroke="#000" stroke-width="1.8" />
<line x1="72.1" y1="160.99" x2="77.1" y2="160.99" stroke="#d95f02" stroke-width="1.8" />
<line x1="72.1" y1="153.78" x2="74.7" y2="153.78" stroke="#d95f02" stroke-width="1.8" />
<line x1="72.1" y1="146.56" x2="74.7" y2="146.56" stroke="#d95f02" stroke-width="1.8" />
<line x1="72.1" y1="139.35" x2="74.7" y2="139.35" stroke="#d95f02" stroke-width="1.8" />
<line x1="72.1" y1="132.13" x2="74.7" y2="132.13" stroke="#d95f02" stroke-width="1.8" />
<line x1="72.1" y1="124.92" x2="77.1" y2="124.92" stroke="#d95f02" stroke-width="1.8" />
<line x1="72.1" y1="117.71" x2="74.7" y2="117.71" stroke="#d95f02" stroke-width="1.8" />
<line x1="72.1" y1="110.49" x2="74.7" y2="110.49" stroke="#d95f02" stroke-width="1.8" />
<line x1="72.1" y1="103.28" x2="74.7" y2="103.28" stroke="#d95f02" stroke-width="1.8" />
<line x1="72.1" y1="96.06" x2="74.7" y2="96.06" stroke="#d95f02" stroke-width="1.8" />
<line x1="72.1" y1="88.85" x2="77.1" y2="88.85" stroke="#d95f02" stroke-width="1.8" />
<line x1="72.1" y1="81.64" x2="74.7" y2="81.64" stroke="#d95f02" stroke-width="1.8" />
<line x1="72.1" y1="74.42" x2="74.7" y2="74.42" stroke="#d95f02" stroke-width="1.8" />
<line x1="72.1" y1="67.21" x2="74.7" y2="67.21" stroke="#d95f02" stroke-width="1.8" />
<line x1="72.1" y1="59.99" x2="74.7" y2="59.99" stroke="#d95f02" stroke-width="1.8" />
<line x1="72.1" y1="52.78" x2="77.1" y2="52.78" stroke="#d95f02" stroke-width="1.8" />
<line x1="72.1" y1="45.57" x2="74.7" y2="45.57" stroke="#d95f02" stroke-width="1.8" />
<line x1="72.1" y1="38.35" x2="74.7" y2="38.35" stroke="#d95f02" stroke-width="1.8" />
<line x1="72.1" y1="31.14" x2="74.7" y2="31.14" stroke="#d95f02" stroke-width="1.8" />
<line x1="72.1" y1="23.92" x2="74.7" y2="23.92" stroke="#d95f02" stroke-width="1.8" />
<line x1="72.1" y1="16.71" x2="77.1" y2="16.71" stroke="#d95f02" stroke-width="1.8" />
<line x1="635.8" y1="160.99" x2="630.8" y2="160.99" stroke="#1b9e77" stroke-width="1.8" />
<line x1="635.8" y1="153.78" x2="633.2" y2="153.78" stroke="#1b9e77" stroke-width="1.8" />
<line x1="635.8" y1="146.56" x2="633.2" y2="146.56" stroke="#1b9e77" stroke-width="1.8" />
<line x1="635.8" y1="139.35" x2="633.2" y2="139.35" stroke="#1b9e77" stroke-width="1.8" />
<line x1="635.8" y1="132.13" x2="633.2" y2="132.13" stroke="#1b9e77" stroke-width="1.8" />
<line x1="635.8" y1="124.92" x2="630.8" y2="124.92" stroke="#1a3a2a" stroke-width="1.8" />
<line x1="635.8" y1="117.71" x2="633.2" y2="117.71" stroke="#1b9e77" stroke-width="1.8" />
<line x1="635.8" y1="110.49" x2="633.2" y2="110.49" stroke="#1b9e77" stroke-width="1.8" />
<line x1="635.8" y1="103.28" x2="633.2" y2="103.28" stroke="#1b9e77" stroke-width="1.8" />
<line x1="635.8" y1="96.06" x2="633.2" y2="96.06" stroke="#1b9e77" stroke-width="1.8" />
<line x1="635.8" y1="88.85" x2="630.8" y2="88.85" stroke="#1b9e77" stroke-width="1.8" />
<line x1="635.8" y1="81.64" x2="633.2" y2="81.64" stroke="#1b9e77" stroke-width="1.8" />
<line x1="635.8" y1="74.42" x2="633.2" y2="74.42" stroke="#1b9e77" stroke-width="1.8" />
<line x1="635.8" y1="67.21" x2="633.2" y2="67.21" stroke="#1b9e77" stroke-width="1.8" />
<line x1="635.8" y1="59.99" x2="633.2" y2="59.99" stroke="#1b9e77" stroke-width="1.8" />
<line x1="635.8" y1="52.78" x2="630.8" y2="52.78" stroke="#1a3a2a" stroke-width="1.8" />
<line x1="635.8" y1="45.57" x2="633.2" y2="45.57" stroke="#1b9e77" stroke-width="1.8" />
<line x1="635.8" y1="38.35" x2="633.2" y2="38.35" stroke="#1b9e77" stroke-width="1.8" />
<line x1="635.8" y1="31.14" x2="633.2" y2="31.14" stroke="#1b9e77" stroke-width="1.8" />
<line x1="635.8" y1="23.92" x2="633.2" y2="23.92" stroke="#1b9e77" stroke-width="1.8" />
<line x1="635.8" y1="16.71" x2="630.8" y2="16.71" stroke="#1b9e77" stroke-width="1.8" />
<line x1="72.1" y1="16.7" x2="635.8" y2="16.7" stroke="#000" stroke-width="1.6" />
<line x1="72.1" y1="161.2" x2="635.8" y2="161.2" stroke="#000" stroke-width="1.6" />
<line x1="72.1" y1="15.8" x2="72.1" y2="162.1" stroke="#d95f02" stroke-width="1.6" />
<line x1="635.8" y1="15.8" x2="635.8" y2="162.1" stroke="#1b9e77" stroke-width="1.6" />
<line x1="71.2" y1="16.7" x2="78.5" y2="16.7" stroke="#d95f02" stroke-width="1.6" />
<line x1="71.2" y1="161.2" x2="78.5" y2="161.2" stroke="#d95f02" stroke-width="1.6" />
<line x1="82.44" y1="16.7" x2="82.44" y2="19.5" stroke="#d95f02" stroke-width="1.6" />
<line x1="82.44" y1="161.2" x2="82.44" y2="158.4" stroke="#d95f02" stroke-width="1.6" />
<line x1="629.5" y1="16.7" x2="635.8" y2="16.7" stroke="#0a4a30" stroke-width="1.6" />
<line x1="629.5" y1="161.2" x2="635.8" y2="161.2" stroke="#0a4a30" stroke-width="1.6" />
<text x="115" y="183.5" font-size="20" fill="#000" text-anchor="middle" >&#8722;10</text>
<text x="224.4" y="183.5" font-size="20" fill="#000" text-anchor="middle" >0</text>
<text x="325.8" y="183.5" font-size="20" fill="#000" text-anchor="middle" >10</text>
<text x="427.2" y="183.5" font-size="20" fill="#000" text-anchor="middle" >20</text>
<text x="528.6" y="183.5" font-size="20" fill="#000" text-anchor="middle" >30</text>
<text x="630" y="183.5" font-size="20" fill="#000" text-anchor="middle" >40</text>
<text x="64.5" y="23.71" font-size="20" fill="#d95f02" text-anchor="end" >2</text>
<text x="64.5" y="95.85" font-size="20" fill="#d95f02" text-anchor="end" >0</text>
<text x="64.5" y="167.99" font-size="20" fill="#d95f02" text-anchor="end" >&#8722;2</text>
<text x="642.5" y="27.01" font-size="20" fill="#1b9e77" text-anchor="start" >200</text>
<text x="642.5" y="95.85" font-size="20" fill="#1b9e77" text-anchor="start" >0</text>
<text x="642.5" y="167.99" font-size="20" fill="#1b9e77" text-anchor="start" >&#8722;200</text>
<text x="352.3" y="204.7" font-size="22.5" fill="#000" text-anchor="middle" >Time, &#964; (ps)</text>
<text x="16" y="91.5" font-size="22.5" fill="#000" text-anchor="middle" transform="rotate(-90 16 91.5)">THz signal,</text>
<text x="45" y="88" font-size="22.5" fill="#000" text-anchor="middle" transform="rotate(-90 45 88)">EOS</text>
<text x="13" y="12" font-size="22.5" fill="#000" text-anchor="start" >a</text>
<line x1="511" y1="35.3" x2="533.8" y2="35.3" stroke="#d95f02" stroke-width="7.2" stroke-linecap="round"/>
<line x1="511" y1="61.9" x2="533.8" y2="61.9" stroke="#1b9e77" stroke-width="7.2" stroke-linecap="round"/>
<text x="547.3" y="42.9" font-size="22.5" fill="#000" text-anchor="start" >PCA</text>
<text x="548.8" y="68.2" font-size="22.5" fill="#000" text-anchor="start" >TELBE</text>
<path d="M413.5,463.5 L413.83,463.48 L414.16,463.46 L414.5,463.42 L414.83,463.38 L415.16,463.33 L415.49,463.28 L415.83,463.23 L416.16,463.17 L416.49,463.12 L416.82,463.06 L417.15,463 L417.49,462.92 L417.82,462.84 L418.15,462.74 L418.48,462.63 L418.81,462.49 L419.15,462.33 L419.48,462.14 L419.81,461.86 L420.14,460.69 L420.48,458.61 L420.81,455.88 L421.14,452.73 L421.47,449.44 L421.8,446.24 L422.14,443.26 L422.47,439.66 L422.8,435.56 L423.13,431.31 L423.47,427.31 L423.8,423.92 L424.13,421.53 L424.46,420.51 L424.79,420.95 L425.13,422.4 L425.46,424.62 L425.79,427.35 L426.12,430.35 L426.45,433.36 L426.79,436.16 L427.12,438.47 L427.45,440.07 L427.78,440.7 L428.12,436.75 L428.45,425.66 L428.78,409.97 L429.11,392.2 L429.44,374.91 L429.78,360.63 L430.11,351.91 L430.44,350.71 L430.77,353.51 L431.1,358.17 L431.44,363.38 L431.77,367.87 L432.1,370.34 L432.43,369.25 L432.77,363.86 L433.1,355.52 L433.43,345.66 L433.76,335.71 L434.09,327.11 L434.43,321.29 L434.76,319.81 L435.09,327.87 L435.42,344.82 L435.76,366.77 L436.09,389.82 L436.42,410.1 L436.75,423.71 L437.08,427.1 L437.42,424.77 L437.75,419.78 L438.08,412.66 L438.41,403.93 L438.74,394.11 L439.08,383.73 L439.41,373.31 L439.74,363.38 L440.07,354.47 L440.41,347.09 L440.74,341.78 L441.07,339.05 L441.4,339.64 L441.73,344.36 L442.07,352.5 L442.4,363.27 L442.73,375.86 L443.06,389.47 L443.4,403.28 L443.73,416.51 L444.06,428.33 L444.39,437.95 L444.72,444.56 L445.06,447.36 L445.39,444.89 L445.72,437.1 L446.05,426.3 L446.38,414.83 L446.72,404.99 L447.05,399.12 L447.38,398.61 L447.71,400 L448.05,402.54 L448.38,406.05 L448.71,410.35 L449.04,415.25 L449.37,420.57 L449.71,426.12 L450.04,431.72 L450.37,437.19 L450.7,442.35 L451.03,447.01 L451.37,450.98 L451.7,454.09 L452.03,456.16 L452.36,456.99 L452.7,456.44 L453.03,454.8 L453.36,452.63 L453.69,450.48 L454.02,448.89 L454.36,448.42 L454.69,449.2 L455.02,450.66 L455.35,452.18 L455.69,453.12 L456.02,452.95 L456.35,451.82 L456.68,450.17 L457.01,448.42 L457.35,447.02 L457.68,446.4 L458.01,447.48 L458.34,450.47 L458.67,454.46 L459.01,458.56 L459.34,461.86 L459.67,463.47 L460,463.69 L460.34,463.86 L460.67,463.96 L461,464 L461,464 L413.5,464 Z" fill="#ffc8c8" stroke="none"/>
<path d="M413.5,463.5 L413.83,463.48 L414.16,463.46 L414.5,463.42 L414.83,463.38 L415.16,463.33 L415.49,463.28 L415.83,463.23 L416.16,463.17 L416.49,463.12 L416.82,463.06 L417.15,463 L417.49,462.92 L417.82,462.84 L418.15,462.74 L418.48,462.63 L418.81,462.49 L419.15,462.33 L419.48,462.14 L419.81,461.86 L420.14,460.69 L420.48,458.61 L420.81,455.88 L421.14,452.73 L421.47,449.44 L421.8,446.24 L422.14,443.26 L422.47,439.66 L422.8,435.56 L423.13,431.31 L423.47,427.31 L423.8,423.92 L424.13,421.53 L424.46,420.51 L424.79,420.95 L425.13,422.4 L425.46,424.62 L425.79,427.35 L426.12,430.35 L426.45,433.36 L426.79,436.16 L427.12,438.47 L427.45,440.07 L427.78,440.7 L428.12,436.75 L428.45,425.66 L428.78,409.97 L429.11,392.2 L429.44,374.91 L429.78,360.63 L430.11,351.91 L430.44,350.71 L430.77,353.51 L431.1,358.17 L431.44,363.38 L431.77,367.87 L432.1,370.34 L432.43,369.25 L432.77,363.86 L433.1,355.52 L433.43,345.66 L433.76,335.71 L434.09,327.11 L434.43,321.29 L434.76,319.81 L435.09,327.87 L435.42,344.82 L435.76,366.77 L436.09,389.82 L436.42,410.1 L436.75,423.71 L437.08,427.1 L437.42,424.77 L437.75,419.78 L438.08,412.66 L438.41,403.93 L438.74,394.11 L439.08,383.73 L439.41,373.31 L439.74,363.38 L440.07,354.47 L440.41,347.09 L440.74,341.78 L441.07,339.05 L441.4,339.64 L441.73,344.36 L442.07,352.5 L442.4,363.27 L442.73,375.86 L443.06,389.47 L443.4,403.28 L443.73,416.51 L444.06,428.33 L444.39,437.95 L444.72,444.56 L445.06,447.36 L445.39,444.89 L445.72,437.1 L446.05,426.3 L446.38,414.83 L446.72,404.99 L447.05,399.12 L447.38,398.61 L447.71,400 L448.05,402.54 L448.38,406.05 L448.71,410.35 L449.04,415.25 L449.37,420.57 L449.71,426.12 L450.04,431.72 L450.37,437.19 L450.7,442.35 L451.03,447.01 L451.37,450.98 L451.7,454.09 L452.03,456.16 L452.36,456.99 L452.7,456.44 L453.03,454.8 L453.36,452.63 L453.69,450.48 L454.02,448.89 L454.36,448.42 L454.69,449.2 L455.02,450.66 L455.35,452.18 L455.69,453.12 L456.02,452.95 L456.35,451.82 L456.68,450.17 L457.01,448.42 L457.35,447.02 L457.68,446.4 L458.01,447.48 L458.34,450.47 L458.67,454.46 L459.01,458.56 L459.34,461.86 L459.67,463.47 L460,463.69 L460.34,463.86 L460.67,463.96 L461,464" fill="none" stroke="#d95f02" stroke-width="3" stroke-linejoin="round"/>
<path d="M413,462.86 L414.45,461.5 L415.9,462.73 L417.34,463.85 L418.79,464 L420.24,464 L421.69,464 L423.14,464 L424.59,464 L426.03,464 L427.48,464 L428.93,464 L430.38,464 L431.83,464 L433.28,464 L434.72,464 L436.17,464 L437.62,464 L439.07,464 L440.52,464 L441.97,464 L443.41,464 L444.86,464 L446.31,464 L447.76,464 L449.21,464 L450.66,464 L452.1,464 L453.55,464 L455,464 L455.5,464 L455.89,463.99 L456.28,463.99 L456.66,463.98 L457.05,463.97 L457.44,463.96 L457.83,463.93 L458.21,463.9 L458.6,463.85 L458.99,463.77 L459.38,463.66 L459.76,463.49 L460.15,463.27 L460.54,462.95 L460.93,462.51 L461.31,461.92 L461.7,461.13 L462.09,460.09 L462.48,458.73 L462.87,456.98 L463.25,454.78 L463.64,452.03 L464.03,448.64 L464.42,444.54 L464.8,439.65 L465.19,433.89 L465.58,427.23 L465.97,419.65 L466.35,411.15 L466.74,401.79 L467.13,391.67 L467.52,380.92 L467.9,369.74 L468.29,358.36 L468.68,347.05 L469.07,336.11 L469.46,325.85 L469.84,316.59 L470.23,308.62 L470.62,302.22 L471.01,297.61 L471.39,294.95 L471.78,294.35 L472.17,295.81 L472.56,299.3 L472.94,304.68 L473.33,311.77 L473.72,320.31 L474.11,330.03 L474.49,340.61 L474.88,351.75 L475.27,363.12 L475.66,374.45 L476.04,385.47 L476.43,395.98 L476.82,405.8 L477.21,414.8 L477.6,422.93 L477.98,430.12 L478.37,436.4 L478.76,441.79 L479.15,446.35 L479.53,450.14 L479.92,453.25 L480.31,455.76 L480.7,457.76 L481.08,459.34 L481.47,460.56 L481.86,461.49 L482.25,462.19 L482.63,462.71 L483.02,463.09 L483.41,463.37 L483.8,463.57 L484.19,463.71 L484.57,463.8 L484.96,463.87 L485.35,463.92 L485.74,463.95 L486.12,463.97 L486.51,463.98 L486.9,463.99 L487.29,463.99 L487.67,463.99 L488.06,464 L488.45,464 L488.84,464 L489.22,464 L489.61,464 L490,464 L491,464 L506.83,464 L522.67,464 L538.5,464 L554.33,464 L570.17,464 L586,464 L601.83,464 L617.67,464 L633.5,464 L633.5,464 L413,464 Z" fill="#33f59a" stroke="none"/>
<path d="M413,462.86 L414.45,461.5 L415.9,462.73 L417.34,463.85 L418.79,464 L420.24,464 L421.69,464 L423.14,464 L424.59,464 L426.03,464 L427.48,464 L428.93,464 L430.38,464 L431.83,464 L433.28,464 L434.72,464 L436.17,464 L437.62,464 L439.07,464 L440.52,464 L441.97,464 L443.41,464 L444.86,464 L446.31,464 L447.76,464 L449.21,464 L450.66,464 L452.1,464 L453.55,464 L455,464 L455.5,464 L455.89,463.99 L456.28,463.99 L456.66,463.98 L457.05,463.97 L457.44,463.96 L457.83,463.93 L458.21,463.9 L458.6,463.85 L458.99,463.77 L459.38,463.66 L459.76,463.49 L460.15,463.27 L460.54,462.95 L460.93,462.51 L461.31,461.92 L461.7,461.13 L462.09,460.09 L462.48,458.73 L462.87,456.98 L463.25,454.78 L463.64,452.03 L464.03,448.64 L464.42,444.54 L464.8,439.65 L465.19,433.89 L465.58,427.23 L465.97,419.65 L466.35,411.15 L466.74,401.79 L467.13,391.67 L467.52,380.92 L467.9,369.74 L468.29,358.36 L468.68,347.05 L469.07,336.11 L469.46,325.85 L469.84,316.59 L470.23,308.62 L470.62,302.22 L471.01,297.61 L471.39,294.95 L471.78,294.35 L472.17,295.81 L472.56,299.3 L472.94,304.68 L473.33,311.77 L473.72,320.31 L474.11,330.03 L474.49,340.61 L474.88,351.75 L475.27,363.12 L475.66,374.45 L476.04,385.47 L476.43,395.98 L476.82,405.8 L477.21,414.8 L477.6,422.93 L477.98,430.12 L478.37,436.4 L478.76,441.79 L479.15,446.35 L479.53,450.14 L479.92,453.25 L480.31,455.76 L480.7,457.76 L481.08,459.34 L481.47,460.56 L481.86,461.49 L482.25,462.19 L482.63,462.71 L483.02,463.09 L483.41,463.37 L483.8,463.57 L484.19,463.71 L484.57,463.8 L484.96,463.87 L485.35,463.92 L485.74,463.95 L486.12,463.97 L486.51,463.98 L486.9,463.99 L487.29,463.99 L487.67,463.99 L488.06,464 L488.45,464 L488.84,464 L489.22,464 L489.61,464 L490,464 L491,464 L506.83,464 L522.67,464 L538.5,464 L554.33,464 L570.17,464 L586,464 L601.83,464 L617.67,464 L633.5,464" fill="none" stroke="#1b9e77" stroke-width="2.6" stroke-linejoin="round"/>
<path d="M439.5,309 L427.5,276.5" stroke="#d95f02" stroke-width="6.5" stroke-linecap="round"/>
<path d="M439.5,309 L427.5,276.5" stroke="#ffc8c8" stroke-width="3" stroke-linecap="round"/>
<path d="M421.5,259.5 L421.3,276 L434.8,270.5 Z" fill="#ffc8c8" stroke="#d95f02" stroke-width="2.2" stroke-linejoin="miter"/>
<path d="M494,315 L563,297.5" stroke="#1b9e77" stroke-width="7" stroke-linecap="round"/>
<path d="M494,315 L563,297.5" stroke="#33f59a" stroke-width="3.6" stroke-linecap="round"/>
<path d="M579.8,292.7 L561,289.5 L565.4,305.3 Z" fill="#33f59a" stroke="#1b9e77" stroke-width="2.5"/>
<rect x="494.6" y="360.7" width="44.8" height="22" fill="#ffc8c8" stroke="#d95f02" stroke-width="3"/>
<rect x="494.6" y="386.1" width="44.8" height="21.5" fill="#33f59a" stroke="#1b9e77" stroke-width="3"/>
<text x="546.3" y="379" font-size="22.5" fill="#000" text-anchor="start" >PCA</text>
<text x="548.6" y="403.2" font-size="22.5" fill="#000" text-anchor="start" >TELBE</text>
<line x1="413" y1="464" x2="413" y2="459" stroke="#000" stroke-width="1.8" />
<line x1="413" y1="230.3" x2="413" y2="235.3" stroke="#000" stroke-width="1.8" />
<line x1="421.82" y1="464" x2="421.82" y2="461.4" stroke="#000" stroke-width="1.8" />
<line x1="421.82" y1="230.3" x2="421.82" y2="232.9" stroke="#000" stroke-width="1.8" />
<line x1="430.64" y1="464" x2="430.64" y2="461.4" stroke="#000" stroke-width="1.8" />
<line x1="430.64" y1="230.3" x2="430.64" y2="232.9" stroke="#000" stroke-width="1.8" />
<line x1="439.46" y1="464" x2="439.46" y2="461.4" stroke="#000" stroke-width="1.8" />
<line x1="439.46" y1="230.3" x2="439.46" y2="232.9" stroke="#000" stroke-width="1.8" />
<line x1="448.28" y1="464" x2="448.28" y2="461.4" stroke="#000" stroke-width="1.8" />
<line x1="448.28" y1="230.3" x2="448.28" y2="232.9" stroke="#000" stroke-width="1.8" />
<line x1="457.1" y1="464" x2="457.1" y2="459" stroke="#000" stroke-width="1.8" />
<line x1="457.1" y1="230.3" x2="457.1" y2="235.3" stroke="#000" stroke-width="1.8" />
<line x1="465.92" y1="464" x2="465.92" y2="461.4" stroke="#000" stroke-width="1.8" />
<line x1="465.92" y1="230.3" x2="465.92" y2="232.9" stroke="#000" stroke-width="1.8" />
<line x1="474.74" y1="464" x2="474.74" y2="461.4" stroke="#000" stroke-width="1.8" />
<line x1="474.74" y1="230.3" x2="474.74" y2="232.9" stroke="#000" stroke-width="1.8" />
<line x1="483.56" y1="464" x2="483.56" y2="461.4" stroke="#000" stroke-width="1.8" />
<line x1="483.56" y1="230.3" x2="483.56" y2="232.9" stroke="#000" stroke-width="1.8" />
<line x1="492.38" y1="464" x2="492.38" y2="461.4" stroke="#000" stroke-width="1.8" />
<line x1="492.38" y1="230.3" x2="492.38" y2="232.9" stroke="#000" stroke-width="1.8" />
<line x1="501.2" y1="464" x2="501.2" y2="459" stroke="#000" stroke-width="1.8" />
<line x1="501.2" y1="230.3" x2="501.2" y2="235.3" stroke="#000" stroke-width="1.8" />
<line x1="510.02" y1="464" x2="510.02" y2="461.4" stroke="#000" stroke-width="1.8" />
<line x1="510.02" y1="230.3" x2="510.02" y2="232.9" stroke="#000" stroke-width="1.8" />
<line x1="518.84" y1="464" x2="518.84" y2="461.4" stroke="#000" stroke-width="1.8" />
<line x1="518.84" y1="230.3" x2="518.84" y2="232.9" stroke="#000" stroke-width="1.8" />
<line x1="527.66" y1="464" x2="527.66" y2="461.4" stroke="#000" stroke-width="1.8" />
<line x1="527.66" y1="230.3" x2="527.66" y2="232.9" stroke="#000" stroke-width="1.8" />
<line x1="536.48" y1="464" x2="536.48" y2="461.4" stroke="#000" stroke-width="1.8" />
<line x1="536.48" y1="230.3" x2="536.48" y2="232.9" stroke="#000" stroke-width="1.8" />
<line x1="545.3" y1="464" x2="545.3" y2="459" stroke="#000" stroke-width="1.8" />
<line x1="545.3" y1="230.3" x2="545.3" y2="235.3" stroke="#000" stroke-width="1.8" />
<line x1="554.12" y1="464" x2="554.12" y2="461.4" stroke="#000" stroke-width="1.8" />
<line x1="554.12" y1="230.3" x2="554.12" y2="232.9" stroke="#000" stroke-width="1.8" />
<line x1="562.94" y1="464" x2="562.94" y2="461.4" stroke="#000" stroke-width="1.8" />
<line x1="562.94" y1="230.3" x2="562.94" y2="232.9" stroke="#000" stroke-width="1.8" />
<line x1="571.76" y1="464" x2="571.76" y2="461.4" stroke="#000" stroke-width="1.8" />
<line x1="571.76" y1="230.3" x2="571.76" y2="232.9" stroke="#000" stroke-width="1.8" />
<line x1="580.58" y1="464" x2="580.58" y2="461.4" stroke="#000" stroke-width="1.8" />
<line x1="580.58" y1="230.3" x2="580.58" y2="232.9" stroke="#000" stroke-width="1.8" />
<line x1="589.4" y1="464" x2="589.4" y2="459" stroke="#000" stroke-width="1.8" />
<line x1="589.4" y1="230.3" x2="589.4" y2="235.3" stroke="#000" stroke-width="1.8" />
<line x1="598.22" y1="464" x2="598.22" y2="461.4" stroke="#000" stroke-width="1.8" />
<line x1="598.22" y1="230.3" x2="598.22" y2="232.9" stroke="#000" stroke-width="1.8" />
<line x1="607.04" y1="464" x2="607.04" y2="461.4" stroke="#000" stroke-width="1.8" />
<line x1="607.04" y1="230.3" x2="607.04" y2="232.9" stroke="#000" stroke-width="1.8" />
<line x1="615.86" y1="464" x2="615.86" y2="461.4" stroke="#000" stroke-width="1.8" />
<line x1="615.86" y1="230.3" x2="615.86" y2="232.9" stroke="#000" stroke-width="1.8" />
<line x1="624.68" y1="464" x2="624.68" y2="461.4" stroke="#000" stroke-width="1.8" />
<line x1="624.68" y1="230.3" x2="624.68" y2="232.9" stroke="#000" stroke-width="1.8" />
<line x1="633.5" y1="464" x2="633.5" y2="459" stroke="#000" stroke-width="1.8" />
<line x1="633.5" y1="230.3" x2="633.5" y2="235.3" stroke="#000" stroke-width="1.8" />
<line x1="413" y1="464" x2="418" y2="464" stroke="#d95f02" stroke-width="1.8" />
<line x1="413" y1="440.63" x2="415.6" y2="440.63" stroke="#d95f02" stroke-width="1.8" />
<line x1="413" y1="417.26" x2="418" y2="417.26" stroke="#d95f02" stroke-width="1.8" />
<line x1="413" y1="393.89" x2="415.6" y2="393.89" stroke="#d95f02" stroke-width="1.8" />
<line x1="413" y1="370.52" x2="418" y2="370.52" stroke="#d95f02" stroke-width="1.8" />
<line x1="413" y1="347.15" x2="415.6" y2="347.15" stroke="#d95f02" stroke-width="1.8" />
<line x1="413" y1="323.78" x2="418" y2="323.78" stroke="#d95f02" stroke-width="1.8" />
<line x1="413" y1="300.41" x2="415.6" y2="300.41" stroke="#d95f02" stroke-width="1.8" />
<line x1="413" y1="277.04" x2="418" y2="277.04" stroke="#d95f02" stroke-width="1.8" />
<line x1="413" y1="253.67" x2="415.6" y2="253.67" stroke="#d95f02" stroke-width="1.8" />
<line x1="413" y1="230.3" x2="418" y2="230.3" stroke="#d95f02" stroke-width="1.8" />
<line x1="633.5" y1="464" x2="628.5" y2="464" stroke="#1b9e77" stroke-width="1.8" />
<line x1="633.5" y1="448.42" x2="630.9" y2="448.42" stroke="#1b9e77" stroke-width="1.8" />
<line x1="633.5" y1="432.84" x2="630.9" y2="432.84" stroke="#1b9e77" stroke-width="1.8" />
<line x1="633.5" y1="417.26" x2="630.9" y2="417.26" stroke="#1b9e77" stroke-width="1.8" />
<line x1="633.5" y1="401.68" x2="630.9" y2="401.68" stroke="#1b9e77" stroke-width="1.8" />
<line x1="633.5" y1="386.1" x2="628.5" y2="386.1" stroke="#1b9e77" stroke-width="1.8" />
<line x1="633.5" y1="370.52" x2="630.9" y2="370.52" stroke="#1b9e77" stroke-width="1.8" />
<line x1="633.5" y1="354.94" x2="630.9" y2="354.94" stroke="#1b9e77" stroke-width="1.8" />
<line x1="633.5" y1="339.36" x2="630.9" y2="339.36" stroke="#1b9e77" stroke-width="1.8" />
<line x1="633.5" y1="323.78" x2="630.9" y2="323.78" stroke="#1b9e77" stroke-width="1.8" />
<line x1="633.5" y1="308.2" x2="628.5" y2="308.2" stroke="#1b9e77" stroke-width="1.8" />
<line x1="633.5" y1="292.62" x2="630.9" y2="292.62" stroke="#1b9e77" stroke-width="1.8" />
<line x1="633.5" y1="277.04" x2="630.9" y2="277.04" stroke="#1b9e77" stroke-width="1.8" />
<line x1="633.5" y1="261.46" x2="630.9" y2="261.46" stroke="#1b9e77" stroke-width="1.8" />
<line x1="633.5" y1="245.88" x2="630.9" y2="245.88" stroke="#1b9e77" stroke-width="1.8" />
<line x1="633.5" y1="230.3" x2="628.5" y2="230.3" stroke="#1b9e77" stroke-width="1.8" />
<line x1="413" y1="230.3" x2="633.5" y2="230.3" stroke="#000" stroke-width="1.6" />
<line x1="413" y1="464.4" x2="633.5" y2="464.4" stroke="#1b9e77" stroke-width="2.6" />
<line x1="413" y1="229.4" x2="413" y2="464.9" stroke="#d95f02" stroke-width="1.6" />
<line x1="633.5" y1="229.4" x2="633.5" y2="464.9" stroke="#1b9e77" stroke-width="1.6" />
<line x1="412.1" y1="230.3" x2="418.5" y2="230.3" stroke="#d95f02" stroke-width="1.6" />
<text x="407.5" y="471" font-size="20" fill="#d95f02" text-anchor="end" >0</text>
<text x="407.5" y="424.26" font-size="20" fill="#d95f02" text-anchor="end" >2</text>
<text x="407.5" y="377.52" font-size="20" fill="#d95f02" text-anchor="end" >4</text>
<text x="407.5" y="330.78" font-size="20" fill="#d95f02" text-anchor="end" >6</text>
<text x="407.5" y="284.04" font-size="20" fill="#d95f02" text-anchor="end" >8</text>
<text x="407.5" y="237.3" font-size="20" fill="#d95f02" text-anchor="end" >10</text>
<text x="639" y="467.3" font-size="20" fill="#1b9e77" text-anchor="start" >0</text>
<text x="639" y="393.1" font-size="20" fill="#1b9e77" text-anchor="start" >500</text>
<text x="639" y="315.2" font-size="20" fill="#1b9e77" text-anchor="start" >1000</text>
<text x="639" y="237.3" font-size="20" fill="#1b9e77" text-anchor="start" >1500</text>
<text x="413" y="484.6" font-size="20" fill="#000" text-anchor="middle" >0</text>
<text x="457.1" y="484.6" font-size="20" fill="#000" text-anchor="middle" >0.5</text>
<text x="501.2" y="484.6" font-size="20" fill="#000" text-anchor="middle" >1</text>
<text x="545.3" y="484.6" font-size="20" fill="#000" text-anchor="middle" >1.5</text>
<text x="589.4" y="484.6" font-size="20" fill="#000" text-anchor="middle" >2</text>
<text x="633.5" y="484.6" font-size="20" fill="#000" text-anchor="middle" >2.5</text>
<text x="516.1" y="515.7" font-size="23.2" fill="#000" text-anchor="middle" >Frequency, <tspan font-style="italic">f</tspan> (THz)</text>
<text x="368.5" y="333.3" font-size="22.5" fill="#000" text-anchor="middle" transform="rotate(-90 368.5 333.3)">THz signal, FFT</text>
<text x="339.5" y="244" font-size="22.5" fill="#000" text-anchor="start" >c</text>
<path d="M78.6,586 L79,582.63 L79.4,579.62 L79.8,577.32 L80.2,575.14 L80.6,573 L81,571 L81.4,569.18 L81.8,567.65 L82.2,566.45 L82.59,565.68 L82.99,565.4 L83.39,565.76 L83.79,566.79 L84.19,568.36 L84.59,570.35 L84.99,572.64 L85.39,575.12 L85.79,577.66 L86.19,580.15 L86.59,582.46 L86.99,584.46 L87.39,586.05 L87.79,587.11 L88.19,587.5 L88.59,584.71 L88.99,577.64 L89.39,568.88 L89.79,561 L90.19,556.57 L90.58,556.7 L90.98,558.45 L91.38,561.31 L91.78,564.96 L92.18,569.08 L92.58,573.35 L92.98,577.46 L93.38,581.08 L93.78,583.91 L94.18,585.75 L94.58,587.39 L94.98,589 L95.38,590.52 L95.78,591.92 L96.18,593.16 L96.58,594.19 L96.98,594.99 L97.38,595.5 L97.78,595.7 L98.17,595.58 L98.57,595.2 L98.97,594.6 L99.37,593.85 L99.77,592.97 L100.17,592.02 L100.57,591.04 L100.97,590.07 L101.37,588.93 L101.77,587.41 L102.17,585.62 L102.57,583.69 L102.97,581.72 L103.37,579.84 L103.77,578.16 L104.17,576.8 L104.57,575.87 L104.97,575.5 L105.37,575.81 L105.77,576.78 L106.16,578.32 L106.56,580.31 L106.96,582.66 L107.36,585.26 L107.76,588 L108.16,590.77 L108.56,593.47 L108.96,596 L109.36,598.25 L109.76,600.12 L110.16,601.49 L110.56,602.26 L110.96,602.29 L111.36,601.09 L111.76,598.75 L112.16,595.46 L112.56,591.43 L112.96,586.86 L113.36,581.97 L113.76,576.95 L114.15,572.01 L114.55,567.35 L114.95,563.19 L115.35,559.71 L115.75,557.14 L116.15,555.67 L116.55,555.49 L116.95,556.5 L117.35,558.41 L117.75,560.96 L118.15,563.89 L118.55,566.93 L118.95,569.82 L119.35,572.28 L119.75,574.06 L120.15,575.06 L120.55,575.85 L120.95,576.52 L121.35,577.1 L121.74,577.61 L122.14,578.1 L122.54,578.59 L122.94,579.11 L123.34,579.7 L123.74,580.38 L124.14,581.18 L124.54,582.11 L124.94,583.11 L125.34,584.16 L125.74,585.22 L126.14,586.27 L126.54,587.27 L126.94,588.19 L127.34,589 L127.74,589.66 L128.14,590.16 L128.54,590.61 L128.94,591.05 L129.34,591.47 L129.73,591.87 L130.13,592.24 L130.53,592.57 L130.93,592.85 L131.33,593.09 L131.73,593.26 L132.13,593.37 L132.53,593.4 L132.93,593.39 L133.33,593.35 L133.73,593.28 L134.13,593.2 L134.53,593.09 L134.93,592.97 L135.33,592.82 L135.73,592.65 L136.13,592.47 L136.53,592.26 L136.93,592.04 L137.32,591.49 L137.72,590.05 L138.12,587.88 L138.52,585.14 L138.92,581.98 L139.32,578.56 L139.72,575.05 L140.12,571.61 L140.52,568.4 L140.92,565.57 L141.32,563.29 L141.72,561.72 L142.12,561.02 L142.52,562.05 L142.92,565.89 L143.32,571.73 L143.72,578.72 L144.12,585.99 L144.52,592.68 L144.92,597.95 L145.31,600.93 L145.71,601.08 L146.11,599.56 L146.51,596.81 L146.91,593.05 L147.31,588.52 L147.71,583.44 L148.11,578.05 L148.51,572.58 L148.91,567.27 L149.31,562.33 L149.71,558.01 L150.11,554.53 L150.51,552.13 L150.91,551.04 L151.31,551.6 L151.71,553.97 L152.11,557.82 L152.51,562.81 L152.91,568.59 L153.3,574.79 L153.7,581.08 L154.1,587.11 L154.5,592.51 L154.9,596.95 L155.3,600.08 L155.7,601.54 L156.1,601.17 L156.5,599.36 L156.9,596.31 L157.3,592.2 L157.7,587.2 L158.1,581.5 L158.5,575.29 L158.9,568.73 L159.3,562.01 L159.7,555.31 L160.1,548.82 L160.5,542.7 L160.89,537.15 L161.29,532.35 L161.69,528.47 L162.09,525.69 L162.49,524.21 L162.89,524.59 L163.29,529.26 L163.69,537.77 L164.09,549.17 L164.49,562.51 L164.89,576.83 L165.29,591.17 L165.69,604.59 L166.09,616.11 L166.49,624.79 L166.89,629.68 L167.29,629.93 L167.69,625.99 L168.09,618.54 L168.49,608.19 L168.88,595.54 L169.28,581.2 L169.68,565.78 L170.08,549.88 L170.48,534.11 L170.88,519.06 L171.28,505.35 L171.68,493.59 L172.08,484.37 L172.48,478.31 L172.88,476.01 L173.28,478.2 L173.68,484.84 L174.08,495.19 L174.48,508.55 L174.88,524.19 L175.28,541.41 L175.68,559.47 L176.08,577.66 L176.47,595.28 L176.87,611.58 L177.27,625.87 L177.67,637.42 L178.07,645.52 L178.47,649.44 L178.87,647.92 L179.27,639.58 L179.67,625.72 L180.07,607.86 L180.47,587.46 L180.87,566.02 L181.27,545.03 L181.67,525.96 L182.07,510.32 L182.47,499.58 L182.87,495.23 L183.27,498 L183.67,506.6 L184.07,519.64 L184.46,535.73 L184.86,553.5 L185.26,571.57 L185.66,588.55 L186.06,603.07 L186.46,613.74 L186.86,619.19 L187.26,619.03 L187.66,616.19 L188.06,611.44 L188.46,605.32 L188.86,598.34 L189.26,591.05 L189.66,583.96 L190.06,577.62 L190.46,572.55 L190.86,569.27 L191.26,568.34 L191.66,570.82 L192.06,576.3 L192.45,583.62 L192.85,591.66 L193.25,599.25 L193.65,605.25 L194.05,608.52 L194.45,608.24 L194.85,605.31 L195.25,600.46 L195.65,594.33 L196.05,587.55 L196.45,580.77 L196.85,574.64 L197.25,569.79 L197.65,566.86 L198.05,566.62 L198.45,570.43 L198.85,577.76 L199.25,587.64 L199.65,599.11 L200.04,611.19 L200.44,622.93 L200.84,633.34 L201.24,641.47 L201.64,646.34 L202.04,646.65 L202.44,638.7 L202.84,623.7 L203.24,604.18 L203.64,582.7 L204.04,561.8 L204.44,544.01 L204.84,531.88 L205.24,527.92 L205.64,529.89 L206.04,534.89 L206.44,542.53 L206.84,552.42 L207.24,564.17 L207.64,577.39 L208.03,591.7 L208.43,606.7 L208.83,622.01 L209.23,637.24 L209.63,652 L210.03,665.9 L210.43,678.56 L210.83,689.58 L211.23,698.57 L211.63,705.15 L212.03,708.93 L212.43,709.16 L212.83,701.2 L213.23,685.21 L213.63,663.12 L214.03,636.84 L214.43,608.3 L214.83,579.39 L215.23,552.06 L215.62,528.21 L216.02,509.75 L216.42,498.62 L216.82,496.56 L217.22,502.33 L217.62,514.35 L218.02,531.57 L218.42,552.93 L218.82,577.38 L219.22,603.88 L219.62,631.38 L220.02,658.82 L220.42,685.17 L220.82,709.36 L221.22,730.35 L221.62,747.09 L222.02,758.54 L222.42,763.63 L222.82,759.16 L223.22,741.63 L223.61,713.9 L224.01,679.03 L224.41,640.08 L224.81,600.08 L225.21,562.09 L225.61,529.16 L226.01,504.35 L226.41,490.69 L226.81,489.96 L227.21,496.66 L227.61,508.92 L228.01,525.74 L228.41,546.13 L228.81,569.11 L229.21,593.69 L229.61,618.86 L230.01,643.64 L230.41,667.05 L230.81,688.08 L231.21,705.75 L231.6,719.06 L232,727.03 L232.4,728.8 L232.8,726.66 L233.2,721.97 L233.6,715.07 L234,706.27 L234.4,695.92 L234.8,684.33 L235.2,671.83 L235.6,658.76 L236,645.45 L236.4,632.21 L236.8,619.38 L237.2,607.3 L237.6,596.28 L238,586.65 L238.4,578.75 L238.8,572.9 L239.19,569.44 L239.59,568.69 L239.99,571.04 L240.39,576.07 L240.79,583.16 L241.19,591.71 L241.59,601.1 L241.99,610.71 L242.39,619.93 L242.79,628.58 L243.19,638.88 L243.59,650.71 L243.99,663.44 L244.39,676.44 L244.79,689.04 L245.19,700.63 L245.59,710.56 L245.99,718.2 L246.39,722.89 L246.79,723.92 L247.18,718.49 L247.58,706.39 L247.98,688.75 L248.38,666.74 L248.78,641.5 L249.18,614.19 L249.58,585.96 L249.98,557.97 L250.38,531.37 L250.78,507.31 L251.18,486.95 L251.58,471.43 L251.98,461.92 L252.38,459.54 L252.78,464.32 L253.18,475.12 L253.58,490.85 L253.98,510.44 L254.38,532.81 L254.78,556.86 L255.17,581.53 L255.57,605.72 L255.97,628.36 L256.37,648.36 L256.77,664.65 L257.17,676.13 L257.57,681.73 L257.97,681.12 L258.37,676.39 L258.77,668.28 L259.17,657.36 L259.57,644.25 L259.97,629.53 L260.37,613.8 L260.77,597.65 L261.17,581.67 L261.57,566.46 L261.97,552.61 L262.37,540.72 L262.76,531.38 L263.16,525.18 L263.56,522.72 L263.96,523.66 L264.36,526.77 L264.76,531.74 L265.16,538.28 L265.56,546.09 L265.96,554.88 L266.36,564.36 L266.76,574.24 L267.16,584.22 L267.56,594.01 L267.96,603.32 L268.36,611.85 L268.76,619.31 L269.16,625.42 L269.56,629.86 L269.96,632.36 L270.36,632.61 L270.75,630.48 L271.15,626.27 L271.55,620.35 L271.95,613.08 L272.35,604.82 L272.75,595.93 L273.15,586.77 L273.55,577.7 L273.95,569.08 L274.35,561.27 L274.75,554.64 L275.15,549.55 L275.55,546.36 L275.95,545.4 L276.35,545.65 L276.75,546.26 L277.15,547.22 L277.55,548.49 L277.95,550.04 L278.34,551.84 L278.74,553.86 L279.14,556.07 L279.54,558.44 L279.94,561.61 L280.34,567.87 L280.74,576.48 L281.14,586.38 L281.54,596.52 L281.94,605.87 L282.34,613.37 L282.74,617.96 L283.14,618.81 L283.54,617.56 L283.94,615.02 L284.34,611.4 L284.74,606.93 L285.14,601.8 L285.54,596.25 L285.94,590.47 L286.33,584.68 L286.73,579.1 L287.13,573.93 L287.53,569.4 L287.93,565.72 L288.33,563.09 L288.73,561.74 L289.13,562.22 L289.53,565.76 L289.93,571.56 L290.33,578.58 L290.73,585.81 L291.13,592.21 L291.53,596.76 L291.93,599.53 L292.33,602.18 L292.73,604.72 L293.13,607.11 L293.53,609.3 L293.93,611.27 L294.32,612.96 L294.72,614.34 L295.12,615.36 L295.52,616 L295.92,616.2 L296.32,615.59 L296.72,614.01 L297.12,611.66 L297.52,608.73 L297.92,605.41 L298.32,601.87 L298.72,598.33 L299.12,594.96 L299.52,591.95 L299.92,589.5 L300.32,587.8 L300.72,587.03 L301.12,587.35 L301.52,588.65 L301.91,590.7 L302.31,593.23 L302.71,596 L303.11,598.76 L303.51,601.26 L303.91,603.26 L304.31,604.51 L304.71,604.75 L305.11,603.79 L305.51,601.81 L305.91,599.06 L306.31,595.78 L306.71,592.22 L307.11,588.64 L307.51,585.29 L307.91,582.4 L308.31,580.24 L308.71,579.05 L309.11,579.21 L309.51,581.32 L309.9,584.8 L310.3,588.92 L310.7,592.93 L311.1,596.11 L311.5,597.73 L311.9,597.7 L312.3,597.19 L312.7,596.15 L313.1,594.46 L313.5,592" fill="none" stroke="#000080" stroke-width="3.9" stroke-linejoin="round" stroke-linecap="round"/>
<path d="M72.1,591.2 L74,584.37 L75.9,595.52 L77.8,576.74 L79.7,586.65 L81.6,582.91 L83.5,589.11 L85.4,577.64 L87.3,593.84 L89.2,582.07 L91.1,592.89 L93,577.36 L94.9,587.45 L96.8,585.94 L98.7,596.05 L100.6,577.61 L102.5,593.61 L104.4,582.13 L106.3,583.86 L108.2,580.66 L110.1,588.85 L112,580.31 L113.9,593.7 L115.8,581.3 L117.7,591.08 L119.6,582.06 L121.5,586.25 L123.4,583.75 L125.3,586.11 L127.2,584.79 L129.1,585.27 L131,587 L132.9,593.55 L134.8,590.38 L136.7,592.45 L138.6,586.78 L140.5,590.99 L142.4,579.99 L144.3,595.94 L146.2,580.43 L148.1,586.15 L150,579.82 L151.9,589.75 L153.8,587.33 L155.7,591.63 L157.6,578.9 L159.5,588.12 L161.4,581.67 L163.3,598.25 L165.2,581.68 L167.1,589.81 L169,583.7 L170.9,585.98 L172.8,580.24 L174.7,588.27 L176.6,591.15 L178.5,587.97 L180.4,581.18 L182.3,587.21 L184.2,579.81 L186.1,587.55 L188,580.28 L189.9,589.79 L191.8,585.25 L193.7,600.31 L195.6,582.98 L197.5,590.06 L199.4,585.79 L201.3,596.6 L203.2,579.94 L205.1,587.62 L207,588.76 L208.9,584.68 L210.8,582.34 L212.7,587.92 L214.6,578.36 L216.5,585.48 L218.4,584.67 L220.3,593.74 L222.2,584.19 L224.1,589.56 L226,573.2 L227.9,590.1 L229.8,578.39 L231.7,592.15 L233.6,583.67 L235.5,582.87 L237.4,584.85 L239.3,583.52 L241.2,584.05 L243.1,589.88 L245,586.94 L246.9,597.01 L248.8,575.33 L250.7,588.19 L252.6,587.96 L254.5,589.14 L256.4,583.86 L258.3,587.65 L260.2,587.21 L262.1,592.03 L264,583.31 L265.9,591.18 L267.8,583.57 L269.7,587.94 L271.6,590.15 L273.5,587.6 L275.4,583.78 L277.3,600.39 L279.2,586.86 L281.1,594.8 L283,573.97 L284.9,593.44 L286.8,579.3 L288.7,589.57 L290.6,580.01 L292.5,589.91 L294.4,587.17 L296.3,588.33 L298.2,585.1 L300.1,602.03 L302,592.95 L303.9,584.28 L305.8,575.95 L307.7,591.2 L309.6,585.54 L311.5,595.3 L313.4,588.9 L315.3,599.61 L317.2,591.77 L319.1,587.27 L321,585.45 L322.9,590.23" fill="none" stroke="#000" stroke-width="2.1" stroke-linejoin="round" clip-path="url(#clipd)"/>
<line x1="72.5" y1="775.3" x2="72.5" y2="770.3" stroke="#000" stroke-width="1.8" />
<line x1="72.5" y1="441.9" x2="72.5" y2="446.9" stroke="#000" stroke-width="1.8" />
<line x1="86.35" y1="775.3" x2="86.35" y2="772.7" stroke="#000" stroke-width="1.8" />
<line x1="86.35" y1="441.9" x2="86.35" y2="444.5" stroke="#000" stroke-width="1.8" />
<line x1="100.2" y1="775.3" x2="100.2" y2="772.7" stroke="#000" stroke-width="1.8" />
<line x1="100.2" y1="441.9" x2="100.2" y2="444.5" stroke="#000" stroke-width="1.8" />
<line x1="114.05" y1="775.3" x2="114.05" y2="772.7" stroke="#000" stroke-width="1.8" />
<line x1="114.05" y1="441.9" x2="114.05" y2="444.5" stroke="#000" stroke-width="1.8" />
<line x1="127.9" y1="775.3" x2="127.9" y2="772.7" stroke="#000" stroke-width="1.8" />
<line x1="127.9" y1="441.9" x2="127.9" y2="444.5" stroke="#000" stroke-width="1.8" />
<line x1="141.75" y1="775.3" x2="141.75" y2="770.3" stroke="#000" stroke-width="1.8" />
<line x1="141.75" y1="441.9" x2="141.75" y2="446.9" stroke="#000" stroke-width="1.8" />
<line x1="155.6" y1="775.3" x2="155.6" y2="772.7" stroke="#000" stroke-width="1.8" />
<line x1="155.6" y1="441.9" x2="155.6" y2="444.5" stroke="#000" stroke-width="1.8" />
<line x1="169.45" y1="775.3" x2="169.45" y2="772.7" stroke="#000" stroke-width="1.8" />
<line x1="169.45" y1="441.9" x2="169.45" y2="444.5" stroke="#000" stroke-width="1.8" />
<line x1="183.3" y1="775.3" x2="183.3" y2="772.7" stroke="#000" stroke-width="1.8" />
<line x1="183.3" y1="441.9" x2="183.3" y2="444.5" stroke="#000" stroke-width="1.8" />
<line x1="197.15" y1="775.3" x2="197.15" y2="772.7" stroke="#000" stroke-width="1.8" />
<line x1="197.15" y1="441.9" x2="197.15" y2="444.5" stroke="#000" stroke-width="1.8" />
<line x1="211" y1="775.3" x2="211" y2="770.3" stroke="#000" stroke-width="1.8" />
<line x1="211" y1="441.9" x2="211" y2="446.9" stroke="#000" stroke-width="1.8" />
<line x1="224.85" y1="775.3" x2="224.85" y2="772.7" stroke="#000" stroke-width="1.8" />
<line x1="224.85" y1="441.9" x2="224.85" y2="444.5" stroke="#000" stroke-width="1.8" />
<line x1="238.7" y1="775.3" x2="238.7" y2="772.7" stroke="#000" stroke-width="1.8" />
<line x1="238.7" y1="441.9" x2="238.7" y2="444.5" stroke="#000" stroke-width="1.8" />
<line x1="252.55" y1="775.3" x2="252.55" y2="772.7" stroke="#000" stroke-width="1.8" />
<line x1="252.55" y1="441.9" x2="252.55" y2="444.5" stroke="#000" stroke-width="1.8" />
<line x1="266.4" y1="775.3" x2="266.4" y2="772.7" stroke="#000" stroke-width="1.8" />
<line x1="266.4" y1="441.9" x2="266.4" y2="444.5" stroke="#000" stroke-width="1.8" />
<line x1="280.25" y1="775.3" x2="280.25" y2="770.3" stroke="#000" stroke-width="1.8" />
<line x1="280.25" y1="441.9" x2="280.25" y2="446.9" stroke="#000" stroke-width="1.8" />
<line x1="294.1" y1="775.3" x2="294.1" y2="772.7" stroke="#000" stroke-width="1.8" />
<line x1="294.1" y1="441.9" x2="294.1" y2="444.5" stroke="#000" stroke-width="1.8" />
<line x1="307.95" y1="775.3" x2="307.95" y2="772.7" stroke="#000" stroke-width="1.8" />
<line x1="307.95" y1="441.9" x2="307.95" y2="444.5" stroke="#000" stroke-width="1.8" />
<line x1="321.8" y1="775.3" x2="321.8" y2="772.7" stroke="#000" stroke-width="1.8" />
<line x1="321.8" y1="441.9" x2="321.8" y2="444.5" stroke="#000" stroke-width="1.8" />
<line x1="72.1" y1="763.08" x2="74.7" y2="763.08" stroke="#000" stroke-width="1.8" />
<line x1="321.8" y1="763.08" x2="319.2" y2="763.08" stroke="#000" stroke-width="1.8" />
<line x1="72.1" y1="738.39" x2="74.7" y2="738.39" stroke="#000" stroke-width="1.8" />
<line x1="321.8" y1="738.39" x2="319.2" y2="738.39" stroke="#000" stroke-width="1.8" />
<line x1="72.1" y1="713.7" x2="77.1" y2="713.7" stroke="#000" stroke-width="1.8" />
<line x1="321.8" y1="713.7" x2="316.8" y2="713.7" stroke="#000" stroke-width="1.8" />
<line x1="72.1" y1="689.01" x2="74.7" y2="689.01" stroke="#000" stroke-width="1.8" />
<line x1="321.8" y1="689.01" x2="319.2" y2="689.01" stroke="#000" stroke-width="1.8" />
<line x1="72.1" y1="664.32" x2="74.7" y2="664.32" stroke="#000" stroke-width="1.8" />
<line x1="321.8" y1="664.32" x2="319.2" y2="664.32" stroke="#000" stroke-width="1.8" />
<line x1="72.1" y1="639.63" x2="74.7" y2="639.63" stroke="#000" stroke-width="1.8" />
<line x1="321.8" y1="639.63" x2="319.2" y2="639.63" stroke="#000" stroke-width="1.8" />
<line x1="72.1" y1="614.94" x2="74.7" y2="614.94" stroke="#000" stroke-width="1.8" />
<line x1="321.8" y1="614.94" x2="319.2" y2="614.94" stroke="#000" stroke-width="1.8" />
<line x1="72.1" y1="590.25" x2="77.1" y2="590.25" stroke="#000" stroke-width="1.8" />
<line x1="321.8" y1="590.25" x2="316.8" y2="590.25" stroke="#000" stroke-width="1.8" />
<line x1="72.1" y1="565.56" x2="74.7" y2="565.56" stroke="#000" stroke-width="1.8" />
<line x1="321.8" y1="565.56" x2="319.2" y2="565.56" stroke="#000" stroke-width="1.8" />
<line x1="72.1" y1="540.87" x2="74.7" y2="540.87" stroke="#000" stroke-width="1.8" />
<line x1="321.8" y1="540.87" x2="319.2" y2="540.87" stroke="#000" stroke-width="1.8" />
<line x1="72.1" y1="516.18" x2="74.7" y2="516.18" stroke="#000" stroke-width="1.8" />
<line x1="321.8" y1="516.18" x2="319.2" y2="516.18" stroke="#000" stroke-width="1.8" />
<line x1="72.1" y1="491.49" x2="74.7" y2="491.49" stroke="#000" stroke-width="1.8" />
<line x1="321.8" y1="491.49" x2="319.2" y2="491.49" stroke="#000" stroke-width="1.8" />
<line x1="72.1" y1="466.8" x2="77.1" y2="466.8" stroke="#000" stroke-width="1.8" />
<line x1="321.8" y1="466.8" x2="316.8" y2="466.8" stroke="#000" stroke-width="1.8" />
<line x1="72.1" y1="442.11" x2="74.7" y2="442.11" stroke="#000" stroke-width="1.8" />
<line x1="321.8" y1="442.11" x2="319.2" y2="442.11" stroke="#000" stroke-width="1.8" />
<rect x="72.1" y="441.9" width="249.70000000000002" height="333.4" fill="none" stroke="#000" stroke-width="1.6"/>
<text x="65.5" y="473.8" font-size="20" fill="#000" text-anchor="end" >0.05</text>
<text x="65.5" y="597.25" font-size="20" fill="#000" text-anchor="end" >0.00</text>
<text x="65.5" y="720.7" font-size="20" fill="#000" text-anchor="end" >&#8722;0.05</text>
<text x="71.5" y="797.5" font-size="20" fill="#000" text-anchor="middle" >&#8722;10</text>
<text x="140.75" y="797.5" font-size="20" fill="#000" text-anchor="middle" >&#8722;5</text>
<text x="211" y="797.5" font-size="20" fill="#000" text-anchor="middle" >0</text>
<text x="280.25" y="797.5" font-size="20" fill="#000" text-anchor="middle" >5</text>
<text x="177" y="826.9" font-size="22.5" fill="#000" text-anchor="middle" >Time, t (ps)</text>
<text x="16.5" y="603.7" font-size="23.1" fill="#000" text-anchor="middle" transform="rotate(-90 16.5 603.7)">Nonlinear THZ responce, EOS</text>
<text x="13" y="437" font-size="22.5" fill="#000" text-anchor="start" >d</text>
<text x="79.5" y="667.6" font-size="23.2" fill="#000" text-anchor="start" >FWM from:</text>
<line x1="91" y1="689" x2="113.8" y2="689" stroke="#000080" stroke-width="7.2" stroke-linecap="round"/>
<line x1="91" y1="723.6" x2="113.8" y2="723.8" stroke="#000" stroke-width="7.2" stroke-linecap="round"/>
<text x="126.5" y="696.5" font-size="22.5" fill="#000" text-anchor="start" >Sample</text>
<text x="161.5" y="721.7" font-size="22.5" fill="#000" text-anchor="middle" >CdTe</text>
<text x="160.9" y="740.4" font-size="23" fill="#000" text-anchor="middle" >substrate</text>
<path d="M416.8,773.5 L417.2,773.01 L417.6,772.61 L418,772.31 L418.4,772.11 L418.8,772.01 L419.2,772.03 L419.6,772.26 L420,772.59 L420.4,772.93 L420.8,773.16 L421.2,773.2 L421.59,773.21 L421.99,773.21 L422.39,773.22 L422.79,773.22 L423.19,773.23 L423.59,773.23 L423.99,773.24 L424.39,773.24 L424.79,773.24 L425.19,773.25 L425.59,773.25 L425.99,773.26 L426.39,773.26 L426.79,773.26 L427.19,773.26 L427.59,773.27 L427.99,773.27 L428.39,773.27 L428.79,773.28 L429.19,773.28 L429.59,773.28 L429.99,773.28 L430.39,773.28 L430.78,773.28 L431.18,773.29 L431.58,773.29 L431.98,773.29 L432.38,773.29 L432.78,773.29 L433.18,773.29 L433.58,773.29 L433.98,773.29 L434.38,773.3 L434.78,773.3 L435.18,773.3 L435.58,773.3 L435.98,773.3 L436.38,773.3 L436.78,773.3 L437.18,773.3 L437.58,773.3 L437.98,773.3 L438.38,773.3 L438.78,773.3 L439.18,773.3 L439.58,773.3 L439.97,773.3 L440.37,773.26 L440.77,773.15 L441.17,772.96 L441.57,772.71 L441.97,772.42 L442.37,772.08 L442.77,771.71 L443.17,771.32 L443.57,770.92 L443.97,770.52 L444.37,770.13 L444.77,769.7 L445.17,769.13 L445.57,768.47 L445.97,767.75 L446.37,767.05 L446.77,766.42 L447.17,765.92 L447.57,765.59 L447.97,765.5 L448.37,765.7 L448.77,766.16 L449.16,766.8 L449.56,767.56 L449.96,768.39 L450.36,769.21 L450.76,769.98 L451.16,770.61 L451.56,771.06 L451.96,771.43 L452.36,771.8 L452.76,772.15 L453.16,772.48 L453.56,772.77 L453.96,773.01 L454.36,773.18 L454.76,773.28 L455.16,773.3 L455.56,773.3 L455.96,773.3 L456.36,773.3 L456.76,773.3 L457.16,773.29 L457.56,773.29 L457.96,773.29 L458.35,773.28 L458.75,773.28 L459.15,773.27 L459.55,773.27 L459.95,773.26 L460.35,773.26 L460.75,773.25 L461.15,773.24 L461.55,773.23 L461.95,773.22 L462.35,773.21 L462.75,773.2 L463.15,773.19 L463.55,773.18 L463.95,773.17 L464.35,773.15 L464.75,773.14 L465.15,773.13 L465.55,773.11 L465.95,773.1 L466.35,773.08 L466.75,773.06 L467.15,773.04 L467.54,773.02 L467.94,773 L468.34,772.97 L468.74,772.89 L469.14,772.78 L469.54,772.64 L469.94,772.48 L470.34,772.31 L470.74,772.12 L471.14,771.92 L471.54,771.72 L471.94,771.53 L472.34,771.32 L472.74,771.05 L473.14,770.73 L473.54,770.4 L473.94,770.07 L474.34,769.75 L474.74,769.46 L475.14,769.23 L475.54,769.07 L475.94,769 L476.34,769 L476.73,769.02 L477.13,769.04 L477.53,769.08 L477.93,769.12 L478.33,769.17 L478.73,769.22 L479.13,769.28 L479.53,769.34 L479.93,769.41 L480.33,769.47 L480.73,769.55 L481.13,769.66 L481.53,769.8 L481.93,769.97 L482.33,770.15 L482.73,770.33 L483.13,770.51 L483.53,770.68 L483.93,770.82 L484.33,770.92 L484.73,770.99 L485.13,770.99 L485.53,770.9 L485.92,770.68 L486.32,770.37 L486.72,769.97 L487.12,769.48 L487.52,768.92 L487.92,768.29 L488.32,767.45 L488.72,765.68 L489.12,763.04 L489.52,759.71 L489.92,755.89 L490.32,751.75 L490.72,747.48 L491.12,743.25 L491.52,739.25 L491.92,735.67 L492.32,732.3 L492.72,728.56 L493.12,724.59 L493.52,720.56 L493.92,716.64 L494.32,713.01 L494.72,709.83 L495.11,707.27 L495.51,705.52 L495.91,704.73 L496.31,704.93 L496.71,705.8 L497.11,707.16 L497.51,708.82 L497.91,710.6 L498.31,712.34 L498.71,713.85 L499.11,714.96 L499.51,715.48 L499.91,714.99 L500.31,713.01 L500.71,709.82 L501.11,705.73 L501.51,701.06 L501.91,696.12 L502.31,691.23 L502.71,686.7 L503.11,682.84 L503.51,679.97 L503.91,677.65 L504.3,675.31 L504.7,673.01 L505.1,670.78 L505.5,668.68 L505.9,666.76 L506.3,665.05 L506.7,663.62 L507.1,662.5 L507.5,661.75 L507.9,661.41 L508.3,661.47 L508.7,661.76 L509.1,662.2 L509.5,662.75 L509.9,663.35 L510.3,663.93 L510.7,664.44 L511.1,664.81 L511.5,664.99 L511.9,664.83 L512.3,664.09 L512.7,662.85 L513.1,661.17 L513.5,659.14 L513.89,656.82 L514.29,654.3 L514.69,651.64 L515.09,648.92 L515.49,645.91 L515.89,641.89 L516.29,637 L516.69,631.43 L517.09,625.37 L517.49,618.99 L517.89,612.47 L518.29,606.01 L518.69,599.79 L519.09,593.99 L519.49,588.79 L519.89,584.37 L520.29,580.6 L520.69,576.73 L521.09,572.84 L521.49,569.05 L521.89,565.5 L522.29,562.3 L522.69,559.59 L523.08,557.48 L523.48,556.11 L523.88,555.6 L524.28,556.25 L524.68,558.19 L525.08,561.2 L525.48,565.08 L525.88,569.64 L526.28,574.65 L526.68,579.92 L527.08,585.23 L527.48,590.57 L527.88,597.04 L528.28,604.6 L528.68,612.97 L529.08,621.83 L529.48,630.89 L529.88,639.85 L530.28,648.39 L530.68,656.23 L531.08,663.17 L531.48,669.78 L531.88,676.21 L532.27,682.45 L532.67,688.48 L533.07,694.29 L533.47,699.88 L533.87,705.22 L534.27,710.32 L534.67,715.24 L535.07,720.58 L535.47,726.11 L535.87,731.4 L536.27,736.03 L536.67,739.59 L537.07,741.65 L537.47,741.84 L537.87,740.25 L538.27,737.24 L538.67,733.1 L539.07,728.14 L539.47,722.66 L539.87,716.98 L540.27,711.4 L540.67,706.11 L541.07,700.34 L541.46,694.02 L541.86,687.27 L542.26,680.24 L542.66,673.07 L543.06,665.89 L543.46,658.84 L543.86,652.05 L544.26,645.59 L544.66,638.81 L545.06,631.67 L545.46,624.34 L545.86,616.96 L546.26,609.71 L546.66,602.73 L547.06,596.19 L547.46,590.23 L547.86,585.02 L548.26,580.72 L548.66,577.48 L549.06,575.37 L549.46,573.56 L549.86,571.92 L550.26,570.54 L550.65,569.5 L551.05,568.91 L551.45,568.86 L551.85,569.5 L552.25,570.77 L552.65,572.59 L553.05,574.84 L553.45,577.43 L553.85,580.26 L554.25,583.23 L554.65,586.24 L555.05,589.27 L555.45,592.93 L555.85,597.31 L556.25,602.25 L556.65,607.62 L557.05,613.28 L557.45,619.09 L557.85,624.93 L558.25,630.64 L558.65,636.09 L559.05,641.14 L559.45,645.66 L559.84,649.56 L560.24,653.36 L560.64,657.17 L561.04,660.94 L561.44,664.62 L561.84,668.15 L562.24,671.49 L562.64,674.58 L563.04,677.37 L563.44,679.82 L563.84,681.85 L564.24,683.44 L564.64,684.55 L565.04,685.51 L565.44,686.44 L565.84,687.31 L566.24,688.12 L566.64,688.86 L567.04,689.52 L567.44,690.09 L567.84,690.58 L568.24,690.95 L568.64,691.22 L569.03,691.37 L569.43,691.38 L569.83,691.11 L570.23,690.57 L570.63,689.82 L571.03,688.93 L571.43,687.97 L571.83,686.99 L572.23,686.07 L572.63,685.27 L573.03,684.65 L573.43,684.28 L573.83,684.24 L574.23,684.8 L574.63,685.96 L575.03,687.62 L575.43,689.66 L575.83,691.98 L576.23,694.48 L576.63,697.05 L577.03,699.58 L577.43,701.98 L577.83,704.16 L578.22,706.33 L578.62,708.57 L579.02,710.87 L579.42,713.22 L579.82,715.61 L580.22,718.03 L580.62,720.47 L581.02,722.92 L581.42,725.37 L581.82,727.82 L582.22,730.25 L582.62,732.65 L583.02,735.02 L583.42,737.34 L583.82,739.6 L584.22,741.89 L584.62,744.26 L585.02,746.65 L585.42,749.04 L585.82,751.4 L586.22,753.68 L586.62,755.85 L587.02,757.87 L587.41,759.71 L587.81,761.33 L588.21,762.74 L588.61,764.1 L589.01,765.42 L589.41,766.68 L589.81,767.84 L590.21,768.87 L590.61,769.75 L591.01,770.44 L591.41,770.92 L591.81,771.23 L592.21,771.51 L592.61,771.76 L593.01,771.99 L593.41,772.19 L593.81,772.37 L594.21,772.53 L594.61,772.67 L595.01,772.78 L595.41,772.88 L595.81,772.97 L596.21,773.03 L596.6,773.1 L597,773.16 L597.4,773.22 L597.8,773.27 L598.2,773.32 L598.6,773.36 L599,773.4 L599.4,773.44 L599.8,773.46 L600.2,773.48 L600.6,773.5 L601,773.5 L601,774 L416.8,774 Z" fill="url(#hatch)" stroke="#000080" stroke-width="1.2"/>
<path d="M416.8,773.2 L417.3,773.2 L417.8,773.2 L418.3,773.2 L418.8,773.2 L419.3,773.2 L419.8,773.2 L420.3,773.2 L420.8,773.2 L421.3,773.2 L421.8,773.2 L422.3,773.2 L422.8,773.2 L423.3,773.2 L423.8,773.2 L424.3,773.2 L424.8,773.2 L425.3,773.2 L425.8,773.2 L426.3,773.2 L426.8,773.2 L427.3,773.2 L427.79,773.2 L428.29,773.2 L428.79,773.2 L429.29,773.2 L429.79,773.2 L430.29,773.2 L430.79,773.2 L431.29,773.2 L431.79,773.2 L432.29,773.2 L432.79,773.2 L433.29,773.2 L433.79,773.2 L434.29,773.2 L434.79,773.2 L435.29,773.2 L435.79,773.2 L436.29,773.2 L436.79,773.2 L437.29,773.2 L437.79,773.2 L438.29,773.2 L438.79,773.2 L439.29,773.2 L439.79,773.2 L440.29,773.2 L440.79,773.2 L441.29,773.2 L441.79,773.2 L442.29,773.2 L442.79,773.2 L443.29,773.19 L443.79,773.19 L444.29,773.19 L444.79,773.19 L445.29,773.19 L445.79,773.18 L446.29,773.18 L446.79,773.18 L447.29,773.18 L447.79,773.17 L448.29,773.17 L448.79,773.16 L449.29,773.16 L449.78,773.16 L450.28,773.15 L450.78,773.15 L451.28,773.14 L451.78,773.14 L452.28,773.13 L452.78,773.13 L453.28,773.12 L453.78,773.12 L454.28,773.11 L454.78,773.1 L455.28,773.1 L455.78,773.09 L456.28,773.08 L456.78,773.06 L457.28,773.05 L457.78,773.03 L458.28,773.01 L458.78,772.99 L459.28,772.96 L459.78,772.93 L460.28,772.9 L460.78,772.86 L461.28,772.82 L461.78,772.77 L462.28,772.66 L462.78,772.49 L463.28,772.27 L463.78,772.01 L464.28,771.71 L464.78,771.38 L465.28,771.02 L465.78,770.64 L466.28,770.25 L466.78,769.84 L467.28,769.44 L467.78,768.98 L468.28,768.45 L468.78,767.86 L469.28,767.22 L469.78,766.53 L470.28,765.8 L470.78,765.04 L471.28,764.26 L471.77,763.47 L472.27,762.66 L472.77,761.86 L473.27,761.06 L473.77,760.26 L474.27,759.45 L474.77,758.62 L475.27,757.76 L475.77,756.88 L476.27,755.95 L476.77,754.99 L477.27,753.98 L477.77,752.91 L478.27,751.78 L478.77,750.58 L479.27,749.25 L479.77,747.8 L480.27,746.24 L480.77,744.58 L481.27,742.84 L481.77,741.04 L482.27,739.19 L482.77,737.26 L483.27,735.18 L483.77,732.98 L484.27,730.7 L484.77,728.35 L485.27,725.98 L485.77,723.61 L486.27,721.28 L486.77,718.98 L487.27,716.68 L487.77,714.35 L488.27,712 L488.77,709.61 L489.27,707.16 L489.77,704.66 L490.27,702.14 L490.77,699.58 L491.27,696.95 L491.77,694.23 L492.27,691.39 L492.77,688.38 L493.27,685.19 L493.76,681.84 L494.26,678.35 L494.76,674.76 L495.26,671.01 L495.76,667.07 L496.26,663.02 L496.76,658.93 L497.26,654.89 L497.76,650.91 L498.26,646.93 L498.76,642.94 L499.26,638.96 L499.76,634.98 L500.26,631.01 L500.76,627.07 L501.26,623.16 L501.76,619.24 L502.26,615.29 L502.76,611.28 L503.26,607.16 L503.76,602.88 L504.26,598.49 L504.76,594.07 L505.26,589.7 L505.76,585.47 L506.26,581.37 L506.76,577.14 L507.26,572.91 L507.76,568.91 L508.26,565.37 L508.76,562.5 L509.26,560.18 L509.76,558.08 L510.26,556.3 L510.76,554.96 L511.26,554.09 L511.76,553.35 L512.26,552.75 L512.76,552.38 L513.26,552.31 L513.76,552.51 L514.26,552.92 L514.76,553.52 L515.26,554.28 L515.75,555.17 L516.25,556.18 L516.75,557.26 L517.25,558.4 L517.75,559.58 L518.25,561.1 L518.75,562.99 L519.25,565.19 L519.75,567.64 L520.25,570.28 L520.75,573.03 L521.25,575.83 L521.75,578.74 L522.25,581.87 L522.75,585.22 L523.25,588.77 L523.75,592.51 L524.25,596.41 L524.75,600.47 L525.25,604.68 L525.75,609 L526.25,613.46 L526.75,618.21 L527.25,623.27 L527.75,628.6 L528.25,634.14 L528.75,639.85 L529.25,645.66 L529.75,651.53 L530.25,657.41 L530.75,663.24 L531.25,669.16 L531.75,675.56 L532.25,682.2 L532.75,688.84 L533.25,695.21 L533.75,701.06 L534.25,706.12 L534.75,710.31 L535.25,714.47 L535.75,718.58 L536.25,722.38 L536.75,725.65 L537.25,728.15 L537.74,729.66 L538.24,729.96 L538.74,729.18 L539.24,727.57 L539.74,725.28 L540.24,722.5 L540.74,719.38 L541.24,716.1 L541.74,712.82 L542.24,709.06 L542.74,704.52 L543.24,699.34 L543.74,693.67 L544.24,687.65 L544.74,681.44 L545.24,675.18 L545.74,669.02 L546.24,663.11 L546.74,657.53 L547.24,651.87 L547.74,646.12 L548.24,640.32 L548.74,634.55 L549.24,628.84 L549.74,623.26 L550.24,617.87 L550.74,612.72 L551.24,607.87 L551.74,603.2 L552.24,598.51 L552.74,593.85 L553.24,589.3 L553.74,584.93 L554.24,580.81 L554.74,577.01 L555.24,573.59 L555.74,570.63 L556.24,568.17 L556.74,565.89 L557.24,563.67 L557.74,561.56 L558.24,559.6 L558.74,557.83 L559.24,556.27 L559.73,554.98 L560.23,553.99 L560.73,553.33 L561.23,552.98 L561.73,552.67 L562.23,552.4 L562.73,552.18 L563.23,552.02 L563.73,551.92 L564.23,551.91 L564.73,552.17 L565.23,552.75 L565.73,553.62 L566.23,554.74 L566.73,556.09 L567.23,557.63 L567.73,559.34 L568.23,561.19 L568.73,563.14 L569.23,565.16 L569.73,567.23 L570.23,569.78 L570.73,573.04 L571.23,576.8 L571.73,580.88 L572.23,585.07 L572.73,589.34 L573.23,594.03 L573.73,599.02 L574.23,604.17 L574.73,609.34 L575.23,614.37 L575.73,619.46 L576.23,624.68 L576.73,629.88 L577.23,634.87 L577.73,639.49 L578.23,643.6 L578.73,647.37 L579.23,650.9 L579.73,654.24 L580.23,657.46 L580.73,660.61 L581.23,663.75 L581.72,666.94 L582.22,670.23 L582.72,673.57 L583.22,676.92 L583.72,680.26 L584.22,683.59 L584.72,686.9 L585.22,690.17 L585.72,693.42 L586.22,696.61 L586.72,699.8 L587.22,703.03 L587.72,706.27 L588.22,709.48 L588.72,712.6 L589.22,715.61 L589.72,718.46 L590.22,721.11 L590.72,723.55 L591.22,725.92 L591.72,728.21 L592.22,730.43 L592.72,732.57 L593.22,734.63 L593.72,736.6 L594.22,738.48 L594.72,740.27 L595.22,741.96 L595.72,743.55 L596.22,745.05 L596.72,746.53 L597.22,747.99 L597.72,749.41 L598.22,750.79 L598.72,752.13 L599.22,753.41 L599.72,754.64 L600.22,755.79 L600.72,756.88 L601.22,757.89 L601.72,758.81 L602.22,759.63 L602.72,760.36 L603.22,760.99 L603.71,761.6 L604.21,762.17 L604.71,762.72 L605.21,763.25 L605.71,763.75 L606.21,764.22 L606.71,764.67 L607.21,765.09 L607.71,765.49 L608.21,765.87 L608.71,766.22 L609.21,766.55 L609.71,766.86 L610.21,767.15 L610.71,767.41 L611.21,767.65 L611.71,767.88 L612.21,768.1 L612.71,768.31 L613.21,768.5 L613.71,768.69 L614.21,768.87 L614.71,769.04 L615.21,769.21 L615.71,769.36 L616.21,769.51 L616.71,769.66 L617.21,769.8 L617.71,769.93 L618.21,770.06 L618.71,770.19 L619.21,770.31 L619.71,770.43 L620.21,770.55 L620.71,770.67 L621.21,770.78 L621.71,770.9 L622.21,771.01 L622.71,771.12 L623.21,771.23 L623.71,771.34 L624.21,771.44 L624.71,771.53 L625.21,771.62 L625.7,771.7 L626.2,771.78 L626.7,771.85 L627.2,771.92 L627.7,771.97 L628.2,772.02 L628.7,772.06 L629.2,772.11 L629.7,772.15 L630.2,772.2 L630.7,772.24 L631.2,772.28 L631.7,772.32 L632.2,772.35 L632.7,772.38 L633.2,772.41 L633.7,772.44 L634.2,772.46 L634.7,772.48 L635.2,772.49 L635.7,772.5 L636.2,772.5" fill="none" stroke="#ff0000" stroke-width="2.8" stroke-linejoin="round"/>
<line x1="416.8" y1="774" x2="416.8" y2="769" stroke="#000" stroke-width="1.8" />
<line x1="416.8" y1="528" x2="416.8" y2="533" stroke="#000" stroke-width="1.8" />
<line x1="425.58" y1="774" x2="425.58" y2="771.4" stroke="#000" stroke-width="1.8" />
<line x1="425.58" y1="528" x2="425.58" y2="530.6" stroke="#000" stroke-width="1.8" />
<line x1="434.36" y1="774" x2="434.36" y2="771.4" stroke="#000" stroke-width="1.8" />
<line x1="434.36" y1="528" x2="434.36" y2="530.6" stroke="#000" stroke-width="1.8" />
<line x1="443.14" y1="774" x2="443.14" y2="771.4" stroke="#000" stroke-width="1.8" />
<line x1="443.14" y1="528" x2="443.14" y2="530.6" stroke="#000" stroke-width="1.8" />
<line x1="451.92" y1="774" x2="451.92" y2="771.4" stroke="#000" stroke-width="1.8" />
<line x1="451.92" y1="528" x2="451.92" y2="530.6" stroke="#000" stroke-width="1.8" />
<line x1="460.7" y1="774" x2="460.7" y2="769" stroke="#000" stroke-width="1.8" />
<line x1="460.7" y1="528" x2="460.7" y2="533" stroke="#000" stroke-width="1.8" />
<line x1="469.48" y1="774" x2="469.48" y2="771.4" stroke="#000" stroke-width="1.8" />
<line x1="469.48" y1="528" x2="469.48" y2="530.6" stroke="#000" stroke-width="1.8" />
<line x1="478.26" y1="774" x2="478.26" y2="771.4" stroke="#000" stroke-width="1.8" />
<line x1="478.26" y1="528" x2="478.26" y2="530.6" stroke="#000" stroke-width="1.8" />
<line x1="487.04" y1="774" x2="487.04" y2="771.4" stroke="#000" stroke-width="1.8" />
<line x1="487.04" y1="528" x2="487.04" y2="530.6" stroke="#000" stroke-width="1.8" />
<line x1="495.82" y1="774" x2="495.82" y2="771.4" stroke="#000" stroke-width="1.8" />
<line x1="495.82" y1="528" x2="495.82" y2="530.6" stroke="#000" stroke-width="1.8" />
<line x1="504.6" y1="774" x2="504.6" y2="769" stroke="#000" stroke-width="1.8" />
<line x1="504.6" y1="528" x2="504.6" y2="533" stroke="#000" stroke-width="1.8" />
<line x1="513.38" y1="774" x2="513.38" y2="771.4" stroke="#000" stroke-width="1.8" />
<line x1="513.38" y1="528" x2="513.38" y2="530.6" stroke="#000" stroke-width="1.8" />
<line x1="522.16" y1="774" x2="522.16" y2="771.4" stroke="#000" stroke-width="1.8" />
<line x1="522.16" y1="528" x2="522.16" y2="530.6" stroke="#000" stroke-width="1.8" />
<line x1="530.94" y1="774" x2="530.94" y2="771.4" stroke="#000" stroke-width="1.8" />
<line x1="530.94" y1="528" x2="530.94" y2="530.6" stroke="#000" stroke-width="1.8" />
<line x1="539.72" y1="774" x2="539.72" y2="771.4" stroke="#000" stroke-width="1.8" />
<line x1="539.72" y1="528" x2="539.72" y2="530.6" stroke="#000" stroke-width="1.8" />
<line x1="548.5" y1="774" x2="548.5" y2="769" stroke="#000" stroke-width="1.8" />
<line x1="548.5" y1="528" x2="548.5" y2="533" stroke="#000" stroke-width="1.8" />
<line x1="557.28" y1="774" x2="557.28" y2="771.4" stroke="#000" stroke-width="1.8" />
<line x1="557.28" y1="528" x2="557.28" y2="530.6" stroke="#000" stroke-width="1.8" />
<line x1="566.06" y1="774" x2="566.06" y2="771.4" stroke="#000" stroke-width="1.8" />
<line x1="566.06" y1="528" x2="566.06" y2="530.6" stroke="#000" stroke-width="1.8" />
<line x1="574.84" y1="774" x2="574.84" y2="771.4" stroke="#000" stroke-width="1.8" />
<line x1="574.84" y1="528" x2="574.84" y2="530.6" stroke="#000" stroke-width="1.8" />
<line x1="583.62" y1="774" x2="583.62" y2="771.4" stroke="#000" stroke-width="1.8" />
<line x1="583.62" y1="528" x2="583.62" y2="530.6" stroke="#000" stroke-width="1.8" />
<line x1="592.4" y1="774" x2="592.4" y2="769" stroke="#000" stroke-width="1.8" />
<line x1="592.4" y1="528" x2="592.4" y2="533" stroke="#000" stroke-width="1.8" />
<line x1="601.18" y1="774" x2="601.18" y2="771.4" stroke="#000" stroke-width="1.8" />
<line x1="601.18" y1="528" x2="601.18" y2="530.6" stroke="#000" stroke-width="1.8" />
<line x1="609.96" y1="774" x2="609.96" y2="771.4" stroke="#000" stroke-width="1.8" />
<line x1="609.96" y1="528" x2="609.96" y2="530.6" stroke="#000" stroke-width="1.8" />
<line x1="618.74" y1="774" x2="618.74" y2="771.4" stroke="#000" stroke-width="1.8" />
<line x1="618.74" y1="528" x2="618.74" y2="530.6" stroke="#000" stroke-width="1.8" />
<line x1="627.52" y1="774" x2="627.52" y2="771.4" stroke="#000" stroke-width="1.8" />
<line x1="627.52" y1="528" x2="627.52" y2="530.6" stroke="#000" stroke-width="1.8" />
<line x1="636.3" y1="774" x2="636.3" y2="769" stroke="#000" stroke-width="1.8" />
<line x1="636.3" y1="528" x2="636.3" y2="533" stroke="#000" stroke-width="1.8" />
<line x1="416.8" y1="773.7" x2="421.8" y2="773.7" stroke="#000" stroke-width="1.8" />
<line x1="636.2" y1="773.7" x2="631.2" y2="773.7" stroke="#000" stroke-width="1.8" />
<line x1="416.8" y1="736.5" x2="419.4" y2="736.5" stroke="#000" stroke-width="1.8" />
<line x1="636.2" y1="736.5" x2="633.6" y2="736.5" stroke="#000" stroke-width="1.8" />
<line x1="416.8" y1="699.3" x2="421.8" y2="699.3" stroke="#000" stroke-width="1.8" />
<line x1="636.2" y1="699.3" x2="631.2" y2="699.3" stroke="#000" stroke-width="1.8" />
<line x1="416.8" y1="662.1" x2="419.4" y2="662.1" stroke="#000" stroke-width="1.8" />
<line x1="636.2" y1="662.1" x2="633.6" y2="662.1" stroke="#000" stroke-width="1.8" />
<line x1="416.8" y1="624.9" x2="421.8" y2="624.9" stroke="#000" stroke-width="1.8" />
<line x1="636.2" y1="624.9" x2="631.2" y2="624.9" stroke="#000" stroke-width="1.8" />
<line x1="416.8" y1="587.7" x2="419.4" y2="587.7" stroke="#000" stroke-width="1.8" />
<line x1="636.2" y1="587.7" x2="633.6" y2="587.7" stroke="#000" stroke-width="1.8" />
<line x1="416.8" y1="550.5" x2="421.8" y2="550.5" stroke="#000" stroke-width="1.8" />
<line x1="636.2" y1="550.5" x2="631.2" y2="550.5" stroke="#000" stroke-width="1.8" />
<rect x="416.8" y="528.0" width="219.40000000000003" height="246.0" fill="none" stroke="#000" stroke-width="1.6"/>
<text x="410.5" y="780.7" font-size="20" fill="#000" text-anchor="end" >0.00</text>
<text x="410.5" y="706.3" font-size="20" fill="#000" text-anchor="end" >0.05</text>
<text x="410.5" y="631.9" font-size="20" fill="#000" text-anchor="end" >0.10</text>
<text x="410.5" y="557.5" font-size="20" fill="#000" text-anchor="end" >0.15</text>
<text x="416.8" y="795.6" font-size="20" fill="#000" text-anchor="middle" >0</text>
<text x="460.7" y="795.6" font-size="20" fill="#000" text-anchor="middle" >0.5</text>
<text x="504.6" y="795.6" font-size="20" fill="#000" text-anchor="middle" >1</text>
<text x="548.5" y="795.6" font-size="20" fill="#000" text-anchor="middle" >1.5</text>
<text x="592.4" y="795.6" font-size="20" fill="#000" text-anchor="middle" >2</text>
<text x="636.3" y="795.6" font-size="20" fill="#000" text-anchor="middle" >2.5</text>
<text x="516.5" y="827.5" font-size="23.2" fill="#000" text-anchor="middle" >Frequency, <tspan font-style="italic">f</tspan> (THz)</text>
<text x="368.8" y="668.7" font-size="22.75" fill="#000" text-anchor="middle" transform="rotate(-90 368.8 668.7)">Nonlinear THz responce, FFT</text>
<text x="339.5" y="518.6" font-size="22.5" fill="#000" text-anchor="start" >e</text>
<line x1="425.5" y1="539.4" x2="431" y2="539.4" stroke="#ff0000" stroke-width="4" stroke-linecap="round"/>
<rect x="424.4" y="556.2" width="8.4" height="5.8" rx="1.2" fill="#000080"/>
<text x="434" y="545.6" font-size="22.5" fill="#000" text-anchor="start" >Simulation</text>
<text x="437.5" y="566.6" font-size="22.5" fill="#000" text-anchor="start" >FWM</text>
<g transform="translate(458.8,663.3)"><path d="M15.0,-18.9 C14.7,-20.7 12.6,-21.4 11.0,-20.5 C9.6,-19.7 9.0,-17.6 8.5,-15 L6.4,-5 C5.8,-2.2 4.4,-0.3 2.4,-0.3 C1.2,-0.3 0.6,-0.9 0.7,-1.6" fill="none" stroke="#000" stroke-width="1.7" stroke-linecap="round"/><path d="M5.6,-14.6 L11.2,-14.6" stroke="#000" stroke-width="1.1"/><circle cx="14.8" cy="-18.9" r="1.05"/><circle cx="0.9" cy="-1.5" r="1.05"/></g>
<g transform="translate(580.4,610.5)"><path d="M15.0,-18.9 C14.7,-20.7 12.6,-21.4 11.0,-20.5 C9.6,-19.7 9.0,-17.6 8.5,-15 L6.4,-5 C5.8,-2.2 4.4,-0.3 2.4,-0.3 C1.2,-0.3 0.6,-0.9 0.7,-1.6" fill="none" stroke="#000" stroke-width="1.7" stroke-linecap="round"/><path d="M5.6,-14.6 L11.2,-14.6" stroke="#000" stroke-width="1.1"/><circle cx="14.8" cy="-18.9" r="1.05"/><circle cx="0.9" cy="-1.5" r="1.05"/></g>
<text x="468.6" y="663.4" font-size="15.3" fill="#000" text-anchor="start" font-style="italic" >low</text>
<text x="590.6" y="609" font-size="15.3" fill="#000" text-anchor="start" font-style="italic" >high</text>
</svg>
</body></html>
